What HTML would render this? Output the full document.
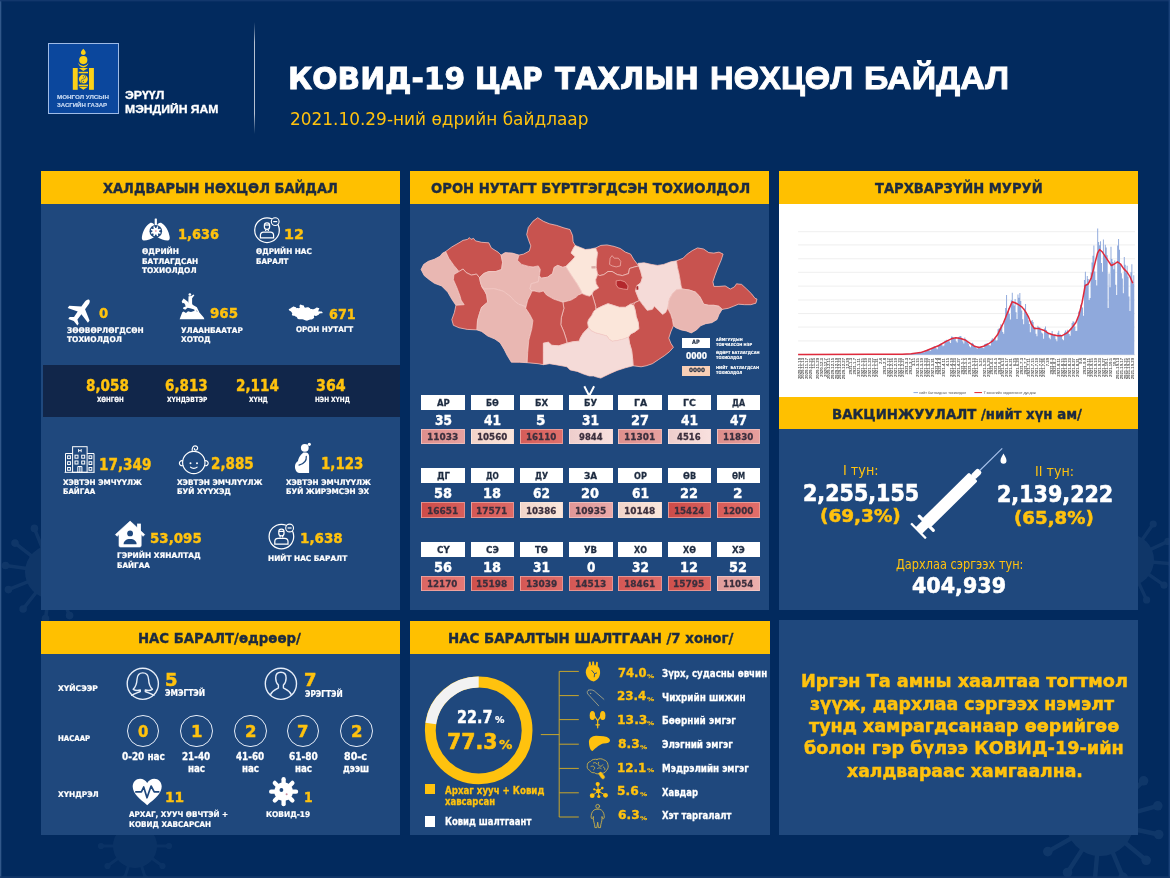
<!DOCTYPE html>
<html lang="mn">
<head>
<meta charset="utf-8">
<title>КОВИД-19 ЦАР ТАХЛЫН НӨХЦӨЛ БАЙДАЛ</title>
<style>
*{box-sizing:border-box;margin:0;padding:0}
html,body{width:1170px;height:878px;overflow:hidden}
body{background:#022a5e;position:relative;font-family:"DejaVu Sans","Liberation Sans",sans-serif;font-weight:bold;color:#fff}
.b{position:absolute}
.t{position:absolute;white-space:pre;line-height:1;transform-origin:0 0;-webkit-text-stroke:.028em currentColor}
.n{-webkit-text-stroke:0}
.f1{font-family:"DejaVu Sans","Liberation Sans",sans-serif}
.f2{font-family:"Liberation Sans","DejaVu Sans",sans-serif}
svg{position:absolute;overflow:visible}
#L{position:absolute;left:0;top:0;width:1170px;height:878px;will-change:transform}
</style>
</head>
<body>
<div id="L">
<svg width="1170" height="878" viewBox="0 0 1170 878" style="left:0;top:0"><g opacity="0.085" fill="#9fb8dc" stroke="#9fb8dc"><line x1="52.0" y1="572.0" x2="98.5" y2="578.5" stroke-width="3.5"/><circle cx="98.5" cy="578.5" r="3.8" stroke="none"/><line x1="52.0" y1="572.0" x2="89.0" y2="600.9" stroke-width="3.5"/><circle cx="89.0" cy="600.9" r="3.8" stroke="none"/><line x1="52.0" y1="572.0" x2="69.6" y2="615.6" stroke-width="3.5"/><circle cx="69.6" cy="615.6" r="3.8" stroke="none"/><line x1="52.0" y1="572.0" x2="45.5" y2="618.5" stroke-width="3.5"/><circle cx="45.5" cy="618.5" r="3.8" stroke="none"/><line x1="52.0" y1="572.0" x2="23.1" y2="609.0" stroke-width="3.5"/><circle cx="23.1" cy="609.0" r="3.8" stroke="none"/><line x1="52.0" y1="572.0" x2="8.4" y2="589.6" stroke-width="3.5"/><circle cx="8.4" cy="589.6" r="3.8" stroke="none"/><line x1="52.0" y1="572.0" x2="5.5" y2="565.5" stroke-width="3.5"/><circle cx="5.5" cy="565.5" r="3.8" stroke="none"/><line x1="52.0" y1="572.0" x2="15.0" y2="543.1" stroke-width="3.5"/><circle cx="15.0" cy="543.1" r="3.8" stroke="none"/><line x1="52.0" y1="572.0" x2="34.4" y2="528.4" stroke-width="3.5"/><circle cx="34.4" cy="528.4" r="3.8" stroke="none"/><line x1="52.0" y1="572.0" x2="58.5" y2="525.5" stroke-width="3.5"/><circle cx="58.5" cy="525.5" r="3.8" stroke="none"/><line x1="52.0" y1="572.0" x2="80.9" y2="535.0" stroke-width="3.5"/><circle cx="80.9" cy="535.0" r="3.8" stroke="none"/><line x1="52.0" y1="572.0" x2="95.6" y2="554.4" stroke-width="3.5"/><circle cx="95.6" cy="554.4" r="3.8" stroke="none"/><circle cx="52" cy="572" r="27" stroke="none"/></g><g opacity="0.06" fill="#9fb8dc" stroke="#9fb8dc"><line x1="135.0" y1="846.0" x2="169.0" y2="846.0" stroke-width="2.9"/><circle cx="169.0" cy="846.0" r="3.1" stroke="none"/><line x1="135.0" y1="846.0" x2="162.5" y2="866.0" stroke-width="2.9"/><circle cx="162.5" cy="866.0" r="3.1" stroke="none"/><line x1="135.0" y1="846.0" x2="145.5" y2="878.3" stroke-width="2.9"/><circle cx="145.5" cy="878.3" r="3.1" stroke="none"/><line x1="135.0" y1="846.0" x2="124.5" y2="878.3" stroke-width="2.9"/><circle cx="124.5" cy="878.3" r="3.1" stroke="none"/><line x1="135.0" y1="846.0" x2="107.5" y2="866.0" stroke-width="2.9"/><circle cx="107.5" cy="866.0" r="3.1" stroke="none"/><line x1="135.0" y1="846.0" x2="101.0" y2="846.0" stroke-width="2.9"/><circle cx="101.0" cy="846.0" r="3.1" stroke="none"/><line x1="135.0" y1="846.0" x2="107.5" y2="826.0" stroke-width="2.9"/><circle cx="107.5" cy="826.0" r="3.1" stroke="none"/><line x1="135.0" y1="846.0" x2="124.5" y2="813.7" stroke-width="2.9"/><circle cx="124.5" cy="813.7" r="3.1" stroke="none"/><line x1="135.0" y1="846.0" x2="145.5" y2="813.7" stroke-width="2.9"/><circle cx="145.5" cy="813.7" r="3.1" stroke="none"/><line x1="135.0" y1="846.0" x2="162.5" y2="826.0" stroke-width="2.9"/><circle cx="162.5" cy="826.0" r="3.1" stroke="none"/><circle cx="135" cy="846" r="22" stroke="none"/></g><g opacity="0.085" fill="#9fb8dc" stroke="#9fb8dc"><line x1="1128.0" y1="560.0" x2="1171.8" y2="563.8" stroke-width="3.4"/><circle cx="1171.8" cy="563.8" r="3.6" stroke="none"/><line x1="1128.0" y1="560.0" x2="1164.0" y2="585.2" stroke-width="3.4"/><circle cx="1164.0" cy="585.2" r="3.6" stroke="none"/><line x1="1128.0" y1="560.0" x2="1146.6" y2="599.9" stroke-width="3.4"/><circle cx="1146.6" cy="599.9" r="3.6" stroke="none"/><line x1="1128.0" y1="560.0" x2="1124.2" y2="603.8" stroke-width="3.4"/><circle cx="1124.2" cy="603.8" r="3.6" stroke="none"/><line x1="1128.0" y1="560.0" x2="1102.8" y2="596.0" stroke-width="3.4"/><circle cx="1102.8" cy="596.0" r="3.6" stroke="none"/><line x1="1128.0" y1="560.0" x2="1088.1" y2="578.6" stroke-width="3.4"/><circle cx="1088.1" cy="578.6" r="3.6" stroke="none"/><line x1="1128.0" y1="560.0" x2="1084.2" y2="556.2" stroke-width="3.4"/><circle cx="1084.2" cy="556.2" r="3.6" stroke="none"/><line x1="1128.0" y1="560.0" x2="1092.0" y2="534.8" stroke-width="3.4"/><circle cx="1092.0" cy="534.8" r="3.6" stroke="none"/><line x1="1128.0" y1="560.0" x2="1109.4" y2="520.1" stroke-width="3.4"/><circle cx="1109.4" cy="520.1" r="3.6" stroke="none"/><line x1="1128.0" y1="560.0" x2="1131.8" y2="516.2" stroke-width="3.4"/><circle cx="1131.8" cy="516.2" r="3.6" stroke="none"/><line x1="1128.0" y1="560.0" x2="1153.2" y2="524.0" stroke-width="3.4"/><circle cx="1153.2" cy="524.0" r="3.6" stroke="none"/><line x1="1128.0" y1="560.0" x2="1167.9" y2="541.4" stroke-width="3.4"/><circle cx="1167.9" cy="541.4" r="3.6" stroke="none"/><circle cx="1128" cy="560" r="26" stroke="none"/></g><g opacity="0.09" fill="#9fb8dc" stroke="#9fb8dc"><line x1="1100.0" y1="822.0" x2="1158.7" y2="834.5" stroke-width="4.4"/><circle cx="1158.7" cy="834.5" r="4.8" stroke="none"/><line x1="1100.0" y1="822.0" x2="1146.2" y2="860.3" stroke-width="4.4"/><circle cx="1146.2" cy="860.3" r="4.8" stroke="none"/><line x1="1100.0" y1="822.0" x2="1123.1" y2="877.4" stroke-width="4.4"/><circle cx="1123.1" cy="877.4" r="4.8" stroke="none"/><line x1="1100.0" y1="822.0" x2="1094.7" y2="881.8" stroke-width="4.4"/><circle cx="1094.7" cy="881.8" r="4.8" stroke="none"/><line x1="1100.0" y1="822.0" x2="1067.5" y2="872.5" stroke-width="4.4"/><circle cx="1067.5" cy="872.5" r="4.8" stroke="none"/><line x1="1100.0" y1="822.0" x2="1047.8" y2="851.6" stroke-width="4.4"/><circle cx="1047.8" cy="851.6" r="4.8" stroke="none"/><line x1="1100.0" y1="822.0" x2="1040.0" y2="823.9" stroke-width="4.4"/><circle cx="1040.0" cy="823.9" r="4.8" stroke="none"/><line x1="1100.0" y1="822.0" x2="1046.0" y2="795.8" stroke-width="4.4"/><circle cx="1046.0" cy="795.8" r="4.8" stroke="none"/><line x1="1100.0" y1="822.0" x2="1064.3" y2="773.7" stroke-width="4.4"/><circle cx="1064.3" cy="773.7" r="4.8" stroke="none"/><line x1="1100.0" y1="822.0" x2="1090.9" y2="762.7" stroke-width="4.4"/><circle cx="1090.9" cy="762.7" r="4.8" stroke="none"/><line x1="1100.0" y1="822.0" x2="1119.5" y2="765.2" stroke-width="4.4"/><circle cx="1119.5" cy="765.2" r="4.8" stroke="none"/><line x1="1100.0" y1="822.0" x2="1143.6" y2="780.8" stroke-width="4.4"/><circle cx="1143.6" cy="780.8" r="4.8" stroke="none"/><line x1="1100.0" y1="822.0" x2="1157.8" y2="805.8" stroke-width="4.4"/><circle cx="1157.8" cy="805.8" r="4.8" stroke="none"/><circle cx="1100" cy="822" r="34" stroke="none"/></g><rect x="0" y="0" width="1.300" height="878" fill="#3a5f90" opacity=".85"/><rect x="0" y="0" width="1170" height="1.400" fill="#14396e" opacity=".9"/><rect x="1168.600" y="0" width="1.400" height="878" fill="#1d457c" opacity=".85"/><rect x="0" y="876.200" width="1170" height="1.800" fill="#17396c" opacity=".8"/></svg>
<div class="b" style="left:41px;top:171px;width:359px;height:439px;background:#1f487d;"></div>
<div class="b" style="left:41px;top:171px;width:359px;height:33px;background:#ffc000;"></div>
<div class="b" style="left:410px;top:171px;width:359px;height:439px;background:#1f487d;"></div>
<div class="b" style="left:410px;top:171px;width:359px;height:33px;background:#ffc000;"></div>
<div class="b" style="left:779px;top:171px;width:359px;height:439px;background:#1f487d;"></div>
<div class="b" style="left:779px;top:171px;width:359px;height:33px;background:#ffc000;"></div>
<div class="b" style="left:779px;top:204px;width:359px;height:193px;background:#ffffff;"></div>
<div class="b" style="left:779px;top:397px;width:359px;height:32px;background:#ffc000;"></div>
<div class="b" style="left:41px;top:621px;width:359px;height:214px;background:#1f487d;"></div>
<div class="b" style="left:41px;top:621px;width:359px;height:33px;background:#ffc000;"></div>
<div class="b" style="left:410px;top:621px;width:360px;height:214px;background:#1f487d;"></div>
<div class="b" style="left:410px;top:621px;width:360px;height:33px;background:#ffc000;"></div>
<div class="b" style="left:779px;top:620px;width:359px;height:215px;background:#1f487d;"></div>
<div class="b" style="left:42.5px;top:365.2px;width:357.5px;height:51.6px;background:#11264a;"></div>
<div class="b" style="left:47.7px;top:43.1px;width:71.2px;height:71.1px;background:#0b479d;border:1.1px solid #9fbbe6"></div>
<svg width="30" height="50" viewBox="68 46 30 50" style="left:68px;top:46px"><g fill="#fcd116">
<path d="M83.3 48.7c1.1 1.5 2.5 2.6 2.4 4.3-.1 1.3-1.1 2-2.4 2s-2.3-.7-2.4-2c-.1-1.7 1.3-2.8 2.4-4.300z"/>
<circle cx="83.3" cy="60.1" r="4.1"/>
<path d="M78.2 62.6c.9 2.1 2.8 3.3 5.100 3.300s4.200-1.200 5.100-3.300c-.3 3-2.300 4.900-5.100 4.900s-4.800-1.900-5.100-4.900z"/>
<rect x="72.8" y="68" width="4.9" height="21.8"/>
<rect x="89" y="68" width="4.9" height="21.800"/>
<path d="M78.700 68.100h9.300l-4.650 3z"/>
<rect x="78.700" y="71.800" width="9.300" height="1.500"/>
<circle cx="83.350" cy="79.100" r="4.500"/>
<rect x="78.700" y="84.600" width="9.300" height="1.500"/>
<path d="M78.700 86.800h9.300l-4.650 3z"/>
</g>
<path d="M83.350 74.600a2.250 2.250 0 0 1 0 4.500a2.250 2.250 0 0 0 0 4.500" fill="none" stroke="#0b479d" stroke-width=".6"/>
<circle cx="83.350" cy="76.850" r=".6" fill="#0b479d"/><circle cx="83.350" cy="81.350" r=".6" fill="#0b479d"/>
</svg>
<div class="t f2" style="left:57.10px;top:95.22px;font-size:5.3px;color:#c8daf3;transform:scaleX(1.1787);">МОНГОЛ УЛСЫН</div>
<div class="t f2" style="left:57.10px;top:102.62px;font-size:5.3px;color:#c8daf3;transform:scaleX(1.1399);">ЗАСГИЙН ГАЗАР</div>
<div class="t f2" style="left:125.40px;top:89.59px;font-size:11px;transform:scaleX(1.1193);">ЭРҮҮЛ</div>
<div class="t f2" style="left:125.40px;top:103.59px;font-size:11px;transform:scaleX(1.1050);">МЭНДИЙН ЯАМ</div>
<div class="b" style="left:253.7px;top:22px;width:1.2px;height:112px;background:linear-gradient(to bottom,rgba(190,200,215,0),rgba(190,200,215,.95) 18%,rgba(190,200,215,.95) 82%,rgba(190,200,215,0))"></div>
<div class="t f1" style="left:288.47px;top:63.14px;font-size:30.8px;transform:scaleX(0.9643);">КОВИД-19</div>
<div class="t f1" style="left:475.30px;top:63.14px;font-size:30.8px;transform:scaleX(0.9019);">ЦАР</div>
<div class="t f1" style="left:555.40px;top:63.14px;font-size:30.8px;transform:scaleX(0.9485);">ТАХЛЫН</div>
<div class="t f2" style="left:710.02px;top:62.64px;font-size:31.4px;transform:scaleX(1.0422);">НӨХЦӨЛ</div>
<div class="t f2" style="left:863.54px;top:62.64px;font-size:31.4px;transform:scaleX(1.0822);">БАЙДАЛ</div>
<div class="t f1" style="left:290.07px;top:110.00px;font-size:18.2px;color:#ffc20e;font-weight:normal;-webkit-text-stroke:0;transform:scaleX(0.9303);">2021.10.29-ний өдрийн байдлаар</div>
<div class="t f1" style="left:103.30px;top:180.96px;font-size:14.7px;color:#1d2b40;transform:scaleX(0.8864);">ХАЛДВАРЫН НӨХЦӨЛ БАЙДАЛ</div>
<div class="t f1" style="left:430.90px;top:180.86px;font-size:14.7px;color:#1d2b40;transform:scaleX(0.8985);">ОРОН НУТАГТ БҮРТГЭГДСЭН ТОХИОЛДОЛ</div>
<div class="t f1" style="left:875.30px;top:180.76px;font-size:14.7px;color:#1d2b40;transform:scaleX(0.8923);">ТАРХВАРЗҮЙН МУРУЙ</div>
<div class="t f1" style="left:832.29px;top:406.76px;font-size:14.7px;color:#1d2b40;transform:scaleX(0.9068);">ВАКЦИНЖУУЛАЛТ /нийт хүн ам/</div>
<div class="t f1" style="left:138.20px;top:631.26px;font-size:14.7px;color:#1d2b40;transform:scaleX(0.9028);">НАС БАРАЛТ/өдрөөр/</div>
<div class="t f1" style="left:448.49px;top:631.06px;font-size:14.7px;color:#1d2b40;transform:scaleX(0.9091);">НАС БАРАЛТЫН ШАЛТГААН /7 хоног/</div>
<div class="t f1" style="left:178.42px;top:227.26px;font-size:14.7px;color:#ffc20e;transform:scaleX(0.8842);">1,636</div>
<div class="t f1" style="left:142.20px;top:248.32px;font-size:7.9px;transform:scaleX(0.9425);">ӨДРИЙН</div>
<div class="t f1" style="left:142.20px;top:257.92px;font-size:7.9px;transform:scaleX(0.9249);">БАТЛАГДСАН</div>
<div class="t f1" style="left:142.20px;top:267.32px;font-size:7.9px;transform:scaleX(0.9347);">ТОХИОЛДОЛ</div>
<div class="t f1" style="left:284.12px;top:227.26px;font-size:14.7px;color:#ffc20e;transform:scaleX(0.9770);">12</div>
<div class="t f1" style="left:256.20px;top:248.32px;font-size:7.9px;transform:scaleX(0.9212);">ӨДРИЙН НАС</div>
<div class="t f1" style="left:256.20px;top:257.92px;font-size:7.9px;transform:scaleX(0.9025);">БАРАЛТ</div>
<div class="t f1" style="left:99.40px;top:306.36px;font-size:14.7px;color:#ffc20e;transform:scaleX(0.9000);">0</div>
<div class="t f1" style="left:67.30px;top:326.82px;font-size:7.9px;transform:scaleX(0.9343);">ЗӨӨВӨРЛӨГДСӨН</div>
<div class="t f1" style="left:67.30px;top:336.12px;font-size:7.9px;transform:scaleX(0.9416);">ТОХИОЛДОЛ</div>
<div class="t f1" style="left:210.00px;top:306.36px;font-size:14.7px;color:#ffc20e;transform:scaleX(0.9166);">965</div>
<div class="t f1" style="left:181.00px;top:326.82px;font-size:7.9px;transform:scaleX(0.9230);">УЛААНБААТАР</div>
<div class="t f1" style="left:181.00px;top:336.12px;font-size:7.9px;transform:scaleX(0.9284);">ХОТОД</div>
<div class="t f1" style="left:328.80px;top:307.16px;font-size:14.7px;color:#ffc20e;transform:scaleX(0.8706);">671</div>
<div class="t f1" style="left:295.90px;top:326.32px;font-size:7.9px;transform:scaleX(0.9050);">ОРОН НУТАГТ</div>
<div class="t f1" style="left:86.15px;top:378.51px;font-size:15.0px;color:#ffc20e;transform:scaleX(0.9041);">8,058</div>
<div class="t f1" style="left:165.45px;top:378.51px;font-size:15.0px;color:#ffc20e;transform:scaleX(0.8998);">6,813</div>
<div class="t f1" style="left:236.00px;top:378.51px;font-size:15.0px;color:#ffc20e;transform:scaleX(0.9042);">2,114</div>
<div class="t f1" style="left:315.90px;top:378.51px;font-size:15.0px;color:#ffc20e;transform:scaleX(0.9473);">364</div>
<div class="t f1" style="left:96.90px;top:395.81px;font-size:7.2px;transform:scaleX(0.7800);">ХӨНГӨН</div>
<div class="t f1" style="left:166.80px;top:395.81px;font-size:7.2px;transform:scaleX(0.8148);">ХҮНДЭВТЭР</div>
<div class="t f1" style="left:248.60px;top:395.81px;font-size:7.2px;transform:scaleX(0.8084);">ХҮНД</div>
<div class="t f1" style="left:314.75px;top:395.81px;font-size:7.2px;transform:scaleX(0.8104);">НЭН ХҮНД</div>
<div class="t f1" style="left:98.91px;top:457.66px;font-size:15.3px;color:#ffc20e;transform:scaleX(0.8887);">17,349</div>
<div class="t f1" style="left:62.60px;top:478.89px;font-size:7.7px;transform:scaleX(0.9391);">ХЭВТЭН ЭМЧҮҮЛЖ</div>
<div class="t f1" style="left:62.60px;top:488.49px;font-size:7.7px;transform:scaleX(0.9205);">БАЙГАА</div>
<div class="t f1" style="left:210.62px;top:457.46px;font-size:15.3px;color:#ffc20e;transform:scaleX(0.8836);">2,885</div>
<div class="t f1" style="left:177.10px;top:478.89px;font-size:7.7px;transform:scaleX(0.9457);">ХЭВТЭН ЭМЧЛҮҮЛЖ</div>
<div class="t f1" style="left:177.10px;top:488.49px;font-size:7.7px;transform:scaleX(0.9553);">БУЙ ХҮҮХЭД</div>
<div class="t f1" style="left:320.72px;top:457.46px;font-size:15.3px;color:#ffc20e;transform:scaleX(0.8772);">1,123</div>
<div class="t f1" style="left:286.30px;top:478.89px;font-size:7.7px;transform:scaleX(0.9391);">ХЭВТЭН ЭМЧЛҮҮЛЖ</div>
<div class="t f1" style="left:286.30px;top:488.49px;font-size:7.7px;transform:scaleX(0.9487);">БУЙ ЖИРЭМСЭН ЭХ</div>
<div class="t f1" style="left:150.29px;top:531.46px;font-size:14.7px;color:#ffc20e;transform:scaleX(0.9124);">53,095</div>
<div class="t f1" style="left:117.30px;top:552.49px;font-size:7.7px;transform:scaleX(0.9637);">ГЭРИЙН ХЯНАЛТАД</div>
<div class="t f1" style="left:117.30px;top:562.19px;font-size:7.7px;transform:scaleX(0.9376);">БАЙГАА</div>
<div class="t f1" style="left:300.28px;top:531.46px;font-size:14.7px;color:#ffc20e;transform:scaleX(0.9196);">1,638</div>
<div class="t f1" style="left:268.40px;top:554.99px;font-size:7.7px;transform:scaleX(0.9546);">НИЙТ НАС БАРАЛТ</div>
<svg width="1170" height="878" viewBox="0 0 1170 878" style="left:0;top:0"><polygon fill="#c8534f" points="421.1,269.5 424.2,275.6 434.4,283.3 441.6,285.9 447.7,292.1 455.8,305.2 454.4,312.4 451.8,319.6 453.4,325.3 459.0,327.8 467.2,329.4 477.0,329.9 481.5,331.4 487.7,336.0 494.9,339.1 500.1,342.7 511.3,362.2 527.2,362.7 538.0,363.7 543.4,364.7 549.5,363.7 555.7,364.7 566.9,366.8 570.1,369.9 577.2,371.4 589.5,376.0 593.6,376.0 600.8,378.1 617.2,370.4 625.4,367.8 633.1,365.8 641.1,366.8 646.2,365.8 652.4,363.7 664.7,355.5 669.8,351.4 673.4,347.3 670.8,343.2 668.8,338.1 670.8,331.9 673.4,326.1 675.9,327.8 681.1,329.9 686.2,330.9 691.3,332.9 696.5,329.9 700.6,325.8 705.7,323.7 711.8,322.7 717.0,319.6 719.0,314.5 722.2,309.4 728.3,308.3 738.5,304.2 750.8,304.7 755.9,303.2 757.0,299.1 754.9,298.2 751.8,294.1 741.6,284.4 736.5,283.8 734.4,286.9 730.3,288.9 725.2,285.9 713.9,286.3 712.9,281.7 723.1,254.1 719.0,252.1 713.9,253.1 708.9,252.6 703.6,249.0 697.5,247.9 692.4,250.5 687.2,254.1 683.1,258.2 676.5,260.8 670.8,261.8 663.6,264.4 657.5,265.4 644.2,262.8 638.0,263.3 638.3,264.3 637.9,264.6 633.6,259.2 630.6,254.1 625.4,252.1 620.3,248.5 614.2,246.4 607.0,244.9 600.8,245.4 595.7,247.9 590.6,249.0 585.5,249.5 575.3,245.4 573.1,241.8 572.6,235.6 570.0,229.5 556.7,225.4 549.5,223.8 543.4,221.3 537.7,217.7 532.9,221.3 528.3,227.4 526.7,234.6 530.8,246.0 529.3,251.0 523.6,254.1 519.0,255.1 512.4,253.1 505.2,252.6 501.1,255.0 498.0,252.1 491.3,247.9 488.8,242.8 481.6,242.3 475.5,240.8 473.6,238.4 471.0,239.2 469.3,237.6 467.5,239.4 463.1,240.3 451.8,246.9 445.7,251.5 442.6,253.1 439.9,256.2 434.4,259.2 428.3,261.3 423.6,264.4 421.1,269.5"/><g stroke="#f3cfca" stroke-width="0.7" stroke-linejoin="round"><polygon fill="#e9b7b2" points="445.7,251.5 442.6,253.1 440.0,256.2 434.4,259.2 428.3,261.3 423.6,264.4 421.1,269.5 424.2,275.6 429.3,279.7 434.4,283.3 441.6,285.9 447.7,292.1 451.8,299.2 455.9,305.3 464.2,304.7 461.1,300.1 460.1,296.2 457.0,287.9 453.4,279.7 453.9,274.6 459.0,271.5 453.9,265.4 448.8,258.2"/><polygon fill="#c8534f" points="445.7,251.5 451.8,246.9 459.0,242.8 463.1,240.3 467.5,239.4 469.3,237.6 471.0,239.3 473.6,238.4 475.4,240.8 481.6,242.3 488.8,242.8 491.3,247.9 498.0,252.1 501.1,255.1 502.6,262.3 501.6,269.5 495.9,271.5 488.8,271.5 483.6,273.6 479.5,277.7 476.5,274.1 471.3,275.1 466.2,272.6 463.1,269.0 459.0,271.5 453.9,265.4 448.8,258.2"/><polygon fill="#c8534f" points="459.0,271.5 463.1,269.0 466.2,272.6 471.3,275.1 476.5,274.1 479.5,277.7 480.6,283.0 482.0,287.0 484.7,291.0 486.7,295.0 487.7,302.2 481.6,307.3 479.5,313.5 477.5,320.6 477.0,329.9 467.2,329.4 459.0,327.8 453.4,325.3 451.8,319.6 454.4,312.4 455.9,305.3 464.2,304.7 461.1,300.1 460.1,296.2 457.0,287.9 453.4,279.7 453.9,274.6"/><polygon fill="#e9b7b2" points="501.1,255.1 505.2,252.6 512.4,253.1 519.0,255.1 517.5,260.3 521.6,264.4 528.8,266.4 533.1,266.9 538.3,265.9 540.3,269.5 539.3,276.0 538.3,281.8 531.1,283.8 530.0,289.0 532.0,291.0 530.3,295.0 527.7,300.1 525.7,308.3 524.7,306.3 518.5,304.2 513.4,300.1 511.3,297.2 503.1,291.1 493.9,288.6 484.7,289.0 482.0,287.0 480.6,283.0 479.5,277.7 483.6,273.6 488.8,271.5 495.9,271.5 501.6,269.5 502.6,262.3"/><polygon fill="#e9b7b2" points="482.0,287.0 484.7,289.0 493.9,288.6 503.1,291.1 511.3,297.2 513.4,300.1 518.5,304.2 524.7,306.3 525.7,308.3 529.8,314.5 532.9,320.6 531.8,328.8 528.8,340.1 527.7,352.4 527.2,362.7 519.5,362.2 511.3,362.2 507.2,355.5 504.2,349.4 500.1,342.7 494.9,339.1 487.7,336.0 481.6,331.4 477.0,329.9 477.5,320.6 479.5,313.5 481.6,307.3 487.7,302.2 486.7,295.0 484.7,291.0"/><polygon fill="#c8534f" points="537.7,217.7 543.4,221.3 549.5,223.8 556.7,225.4 563.9,227.9 570.0,229.5 572.6,235.6 573.1,241.8 575.2,245.4 573.1,249.0 571.1,253.1 575.2,256.7 572.1,260.3 569.0,263.3 565.9,266.4 562.9,267.4 557.7,265.4 554.2,267.4 552.6,273.6 547.5,277.2 541.3,278.2 539.3,276.0 540.3,269.5 538.3,265.9 533.1,266.9 528.8,266.4 521.6,264.4 517.5,260.3 519.0,255.1 523.6,254.1 529.3,251.0 530.8,245.9 528.8,240.8 526.7,234.6 528.3,227.4 532.9,221.3"/><polygon fill="#e9b7b2" points="539.3,276.0 541.3,278.2 547.5,277.2 552.6,273.6 554.2,267.4 557.7,265.4 562.9,267.4 565.9,266.4 569.0,271.5 573.1,277.7 577.2,283.8 581.3,291.0 582.0,293.5 578.3,295.0 576.2,297.1 571.1,300.1 562.9,302.2 553.6,299.1 546.5,295.0 543.4,291.0 539.3,292.1 534.2,291.0 532.0,291.0 530.0,289.0 531.1,283.8 538.3,281.8"/><polygon fill="#fbe6da" points="575.2,245.4 580.3,247.4 585.4,249.5 590.6,249.0 595.7,247.9 597.7,253.1 596.7,259.2 596.2,267.4 597.7,274.6 595.7,279.7 596.2,283.8 598.8,287.9 593.6,291.0 592.1,294.1 589.5,296.2 585.4,295.1 582.0,293.5 581.3,291.0 577.2,283.8 573.1,277.7 569.0,271.5 565.9,266.4 569.0,263.3 572.1,260.3 575.2,256.7 571.1,253.1 573.1,249.0"/><polygon fill="#c8534f" points="595.7,247.9 600.8,245.4 607.0,244.9 614.2,246.4 620.3,248.5 625.4,252.1 630.6,254.1 633.6,259.2 636.7,263.3 638.8,265.9 634.7,266.9 629.5,268.5 628.5,273.6 622.4,275.6 617.2,274.6 612.1,271.5 608.0,271.5 603.9,274.6 599.8,275.6 597.7,274.6 596.2,267.4 596.7,259.2 597.7,253.1"/><polygon fill="#c8534f" points="597.7,274.6 599.8,275.6 603.9,274.6 608.0,271.5 612.1,271.5 617.2,274.6 622.4,275.6 628.5,273.6 629.5,268.5 634.7,266.9 638.8,265.9 640.8,271.5 642.4,277.7 640.8,282.8 636.7,285.9 635.7,291.0 637.7,296.2 639.5,300.5 634.7,302.7 630.6,304.2 625.4,307.3 619.3,307.3 613.1,305.3 608.0,303.7 601.8,306.3 595.7,309.4 595.7,306.3 592.1,294.1 593.6,291.0 598.8,287.9 596.2,283.8 595.7,279.7"/><polygon fill="#f5dbd8" points="638.8,265.9 638.0,263.3 644.2,262.8 651.3,264.4 657.5,265.4 663.6,264.4 670.8,261.8 676.5,260.8 677.5,267.4 679.0,273.6 680.1,279.7 681.1,285.9 682.1,289.0 677.0,289.5 672.9,293.1 669.8,298.2 668.8,301.2 667.7,308.3 665.7,312.4 662.6,314.5 658.5,310.4 654.4,306.3 652.4,309.4 647.2,310.4 643.1,305.3 639.5,300.5 637.7,296.2 635.7,291.0 636.7,285.9 640.8,282.8 642.4,277.7 640.8,271.5"/><polygon fill="#c8534f" points="676.5,260.8 683.1,258.2 687.2,254.1 692.4,250.5 697.5,247.9 703.6,249.0 708.8,252.6 713.9,253.1 719.0,252.1 723.1,254.1 721.1,260.3 718.0,267.4 714.9,275.6 712.9,281.8 713.9,286.4 719.0,286.4 725.2,285.9 730.3,289.0 734.4,286.9 736.5,283.8 741.6,284.4 746.7,289.0 751.8,294.1 754.9,298.2 757.0,299.1 755.9,303.2 750.8,304.7 744.7,304.7 738.5,304.2 733.4,306.3 728.3,308.3 722.1,309.4 719.0,306.3 713.9,305.3 708.8,305.3 703.6,304.2 701.6,300.1 699.5,296.2 695.4,292.1 689.3,290.0 682.1,289.0 681.1,285.9 680.1,279.7 679.0,273.6 677.5,267.4"/><polygon fill="#e9b7b2" points="682.1,289.0 689.3,290.0 695.4,292.1 699.5,296.2 701.6,300.1 703.6,304.2 708.8,305.3 713.9,305.3 719.0,306.3 722.1,309.4 719.0,314.5 717.0,319.6 711.8,322.7 705.7,323.7 700.6,325.8 696.5,329.9 691.3,332.9 686.2,330.9 681.1,329.9 675.9,327.8 673.4,325.8 672.4,319.6 670.8,314.5 667.7,308.3 668.8,301.2 669.8,298.2 672.9,293.1 677.0,289.5"/><polygon fill="#c8534f" points="639.5,300.5 643.1,305.3 647.2,310.4 652.4,309.4 654.4,306.3 658.5,310.4 662.6,314.5 665.7,312.4 667.7,308.3 670.8,314.5 672.4,319.6 673.4,325.8 670.8,331.9 668.8,338.1 670.8,343.2 673.4,347.3 669.8,351.4 664.7,355.5 658.5,359.6 652.4,363.7 646.2,365.8 641.1,366.8 633.1,365.8 632.6,358.6 631.6,350.4 629.5,343.2 628.5,337.1 630.6,334.0 634.7,331.9 638.8,328.8 638.3,322.7 636.2,316.5 635.2,310.4 633.6,305.3 634.7,302.7"/><polygon fill="#fbe6da" points="595.7,309.4 601.8,306.3 608.0,303.7 613.1,305.3 619.3,307.3 625.4,307.3 630.6,304.2 633.6,305.3 635.2,310.4 636.2,316.5 638.3,322.7 638.8,328.8 634.7,331.9 630.6,334.0 628.5,337.1 623.4,339.1 617.2,340.6 612.1,341.2 609.0,339.1 607.0,336.0 601.8,334.5 595.7,332.9 591.6,330.9 588.5,327.8 587.5,322.7 588.5,319.6 591.6,315.5 593.6,311.4"/><polygon fill="#c8534f" points="562.9,302.2 571.1,300.1 576.2,297.1 578.3,295.0 582.0,293.5 585.4,295.1 589.5,296.2 592.1,294.1 595.7,306.3 595.7,309.4 593.6,311.4 591.6,315.5 588.5,319.6 587.5,322.7 588.5,327.8 583.4,332.9 580.3,338.1 579.3,341.2 573.1,341.7 567.0,343.2 566.5,340.1 563.9,331.9 560.8,324.7 561.3,317.6 563.9,308.3"/><polygon fill="#c8534f" points="532.0,291.0 534.2,291.0 539.3,292.1 543.4,291.0 546.5,295.0 553.6,299.1 562.9,302.2 563.9,308.3 561.3,317.6 560.8,324.7 563.9,331.9 566.5,340.1 567.0,343.2 558.8,345.8 551.6,345.3 548.5,342.2 543.4,343.2 543.4,352.4 543.4,364.7 538.0,363.7 527.2,362.7 527.7,352.4 528.8,340.1 531.8,328.8 532.9,320.6 529.8,314.5 525.7,308.3 527.7,300.1 530.3,295.0"/><polygon fill="#f5dbd8" points="543.4,364.7 543.4,352.4 543.4,343.2 548.5,342.2 551.6,345.3 558.8,345.8 567.0,343.2 573.1,341.7 579.3,341.2 580.3,338.1 583.4,332.9 588.5,327.8 591.6,330.9 595.7,332.9 601.8,334.5 607.0,336.0 609.0,339.1 612.1,341.2 617.2,340.6 623.4,339.1 628.5,337.1 629.5,343.2 631.6,350.4 632.6,358.6 633.1,365.8 625.4,367.8 617.2,370.4 610.1,373.5 604.9,376.0 600.8,378.1 596.7,377.1 593.6,376.0 589.5,376.0 583.4,374.0 577.2,371.4 570.1,369.9 567.0,366.8 561.8,365.8 555.7,364.7 549.5,363.7"/><polygon fill="#c8534f" stroke="#f0b9b4" points="610.1,258.2 612.1,255.6 614.2,258.2 618.3,258.2 620.8,261.3 620.3,265.9 616.2,266.9 612.1,265.9 609.5,264.4"/><polygon fill="#b3282d" stroke="#f0a9a4" points="616.2,280.8 620.3,280.3 624.9,281.8 628,285.9 627.5,289.5 623.4,289 618.3,287.9 616.2,284.9"/><polygon fill="#a82428" stroke="none" points="636.3,286.5 638.2,286 638.4,289.6 636.6,290"/><polygon fill="#d9aaa4" stroke="none" points="591.3,266.3 595.6,266 595.6,268.4 591.6,268.6"/></g><polyline points="584.3,386.2 588.4,394.2 590.0,394.2 594.1,386.2" fill="none" stroke="#fff" stroke-width="2"/></svg>
<div class="b" style="left:682px;top:337.5px;width:28px;height:10px;background:#ffffff;"></div>
<div class="t f1" style="left:692.10px;top:340.01px;font-size:5.9px;color:#1d2b40;transform:scaleX(0.8578);">АР</div>
<div class="t f1" style="left:685.90px;top:352.41px;font-size:8.5px;transform:scaleX(0.8845);">0000</div>
<div class="b" style="left:682px;top:365.8px;width:28px;height:10.2px;background:#f8cfb6;"></div>
<div class="t f1" style="left:688.60px;top:368.11px;font-size:5.9px;color:#1d2b40;transform:scaleX(0.9818);">0000</div>
<div class="t f1" style="left:716.00px;top:338.05px;font-size:4.2px;transform:scaleX(0.8410);">АЙМГУУДЫН</div>
<div class="t f1" style="left:716.00px;top:343.25px;font-size:4.2px;transform:scaleX(0.8749);">ТОВЧИЛСОН НЭР</div>
<div class="t f1" style="left:716.00px;top:351.45px;font-size:4.2px;transform:scaleX(0.8636);">ӨДӨРТ БАТЛАГДСАН</div>
<div class="t f1" style="left:716.00px;top:355.65px;font-size:4.2px;transform:scaleX(0.8451);">ТОХИОЛДОЛ</div>
<div class="t f1" style="left:716.00px;top:366.25px;font-size:4.2px;transform:scaleX(0.8877);">НИЙТ  БАТЛАГДСАН</div>
<div class="t f1" style="left:716.00px;top:371.15px;font-size:4.2px;transform:scaleX(0.8451);">ТОХИОЛДОЛ</div>
<div class="b" style="left:421.3px;top:394.6px;width:43.6px;height:15.3px;background:#ffffff;"></div>
<div class="t f1" style="left:436.50px;top:398.59px;font-size:9.0px;color:#1d2b40;transform:scaleX(0.9452);">АР</div>
<div class="t f1" style="left:434.70px;top:413.75px;font-size:13.3px;transform:scaleX(0.9204);">35</div>
<div class="b" style="left:421.30px;top:428.6px;width:43.6px;height:15.8px;background:#e59a98;border:1px solid rgba(255,235,230,.4);background-image:linear-gradient(to right,rgba(120,0,0,.07),rgba(255,255,255,.07))"></div>
<div class="t f1" style="left:427.24px;top:432.05px;font-size:9.4px;color:#3b2f3d;transform:scaleX(0.9584);">11033</div>
<div class="b" style="left:470.55px;top:394.6px;width:43.6px;height:15.3px;background:#ffffff;"></div>
<div class="t f1" style="left:485.75px;top:398.59px;font-size:9.0px;color:#1d2b40;transform:scaleX(0.8883);">БӨ</div>
<div class="t f1" style="left:483.95px;top:413.75px;font-size:13.3px;transform:scaleX(0.9204);">41</div>
<div class="b" style="left:470.55px;top:428.6px;width:43.6px;height:15.8px;background:#fbe3d8;border:1px solid rgba(255,235,230,.4);background-image:linear-gradient(to right,rgba(120,0,0,.07),rgba(255,255,255,.07))"></div>
<div class="t f1" style="left:476.52px;top:432.05px;font-size:9.4px;color:#3b2f3d;transform:scaleX(0.9286);">10560</div>
<div class="b" style="left:519.8px;top:394.6px;width:43.6px;height:15.3px;background:#ffffff;"></div>
<div class="t f1" style="left:535.00px;top:398.59px;font-size:9.0px;color:#1d2b40;transform:scaleX(0.9524);">БХ</div>
<div class="t f1" style="left:536.47px;top:413.75px;font-size:13.3px;transform:scaleX(1.0250);">5</div>
<div class="b" style="left:519.80px;top:428.6px;width:43.6px;height:15.8px;background:#dd6460;border:1px solid rgba(255,235,230,.4);background-image:linear-gradient(to right,rgba(120,0,0,.07),rgba(255,255,255,.07))"></div>
<div class="t f1" style="left:525.77px;top:432.05px;font-size:9.4px;color:#3b2f3d;transform:scaleX(0.9286);">16110</div>
<div class="b" style="left:569.05px;top:394.6px;width:43.6px;height:15.3px;background:#ffffff;"></div>
<div class="t f1" style="left:584.25px;top:398.59px;font-size:9.0px;color:#1d2b40;transform:scaleX(0.9524);">БУ</div>
<div class="t f1" style="left:582.45px;top:413.75px;font-size:13.3px;transform:scaleX(0.9204);">31</div>
<div class="b" style="left:569.05px;top:428.6px;width:43.6px;height:15.8px;background:#f8dedc;border:1px solid rgba(255,235,230,.4);background-image:linear-gradient(to right,rgba(120,0,0,.07),rgba(255,255,255,.07))"></div>
<div class="t f1" style="left:578.85px;top:432.05px;font-size:9.4px;color:#3b2f3d;transform:scaleX(0.9033);">9844</div>
<div class="b" style="left:618.3px;top:394.6px;width:43.6px;height:15.3px;background:#ffffff;"></div>
<div class="t f1" style="left:633.50px;top:398.59px;font-size:9.0px;color:#1d2b40;transform:scaleX(1.0365);">ГА</div>
<div class="t f1" style="left:630.73px;top:413.75px;font-size:13.3px;transform:scaleX(0.9738);">27</div>
<div class="b" style="left:618.30px;top:428.6px;width:43.6px;height:15.8px;background:#e59a98;border:1px solid rgba(255,235,230,.4);background-image:linear-gradient(to right,rgba(120,0,0,.07),rgba(255,255,255,.07))"></div>
<div class="t f1" style="left:624.24px;top:432.05px;font-size:9.4px;color:#3b2f3d;transform:scaleX(0.9584);">11301</div>
<div class="b" style="left:667.55px;top:394.6px;width:43.6px;height:15.3px;background:#ffffff;"></div>
<div class="t f1" style="left:682.75px;top:398.59px;font-size:9.0px;color:#1d2b40;transform:scaleX(1.0365);">ГС</div>
<div class="t f1" style="left:680.95px;top:413.75px;font-size:13.3px;transform:scaleX(0.9204);">41</div>
<div class="b" style="left:667.55px;top:428.6px;width:43.6px;height:15.8px;background:#f8dedc;border:1px solid rgba(255,235,230,.4);background-image:linear-gradient(to right,rgba(120,0,0,.07),rgba(255,255,255,.07))"></div>
<div class="t f1" style="left:677.35px;top:432.05px;font-size:9.4px;color:#3b2f3d;transform:scaleX(0.9033);">4516</div>
<div class="b" style="left:716.8px;top:394.6px;width:43.6px;height:15.3px;background:#ffffff;"></div>
<div class="t f1" style="left:732.00px;top:398.59px;font-size:9.0px;color:#1d2b40;transform:scaleX(0.8791);">ДА</div>
<div class="t f1" style="left:730.20px;top:413.75px;font-size:13.3px;transform:scaleX(0.9204);">47</div>
<div class="b" style="left:716.80px;top:428.6px;width:43.6px;height:15.8px;background:#e49896;border:1px solid rgba(255,235,230,.4);background-image:linear-gradient(to right,rgba(120,0,0,.07),rgba(255,255,255,.07))"></div>
<div class="t f1" style="left:722.77px;top:432.05px;font-size:9.4px;color:#3b2f3d;transform:scaleX(0.9286);">11830</div>
<div class="b" style="left:421.3px;top:468.2px;width:43.6px;height:15.3px;background:#ffffff;"></div>
<div class="t f1" style="left:436.50px;top:472.19px;font-size:9.0px;color:#1d2b40;transform:scaleX(0.9418);">ДГ</div>
<div class="t f1" style="left:433.73px;top:487.35px;font-size:13.3px;transform:scaleX(0.9738);">58</div>
<div class="b" style="left:421.30px;top:502.2px;width:43.6px;height:15.8px;background:#d4524f;border:1px solid rgba(255,235,230,.4);background-image:linear-gradient(to right,rgba(120,0,0,.07),rgba(255,255,255,.07))"></div>
<div class="t f1" style="left:427.24px;top:505.65px;font-size:9.4px;color:#3b2f3d;transform:scaleX(0.9584);">16651</div>
<div class="b" style="left:470.55px;top:468.2px;width:43.6px;height:15.3px;background:#ffffff;"></div>
<div class="t f1" style="left:485.75px;top:472.19px;font-size:9.0px;color:#1d2b40;transform:scaleX(0.8242);">ДО</div>
<div class="t f1" style="left:482.98px;top:487.35px;font-size:13.3px;transform:scaleX(0.9738);">18</div>
<div class="b" style="left:470.55px;top:502.2px;width:43.6px;height:15.8px;background:#dc5f5b;border:1px solid rgba(255,235,230,.4);background-image:linear-gradient(to right,rgba(120,0,0,.07),rgba(255,255,255,.07))"></div>
<div class="t f1" style="left:476.49px;top:505.65px;font-size:9.4px;color:#3b2f3d;transform:scaleX(0.9584);">17571</div>
<div class="b" style="left:519.8px;top:468.2px;width:43.6px;height:15.3px;background:#ffffff;"></div>
<div class="t f1" style="left:535.00px;top:472.19px;font-size:9.0px;color:#1d2b40;transform:scaleX(0.8791);">ДУ</div>
<div class="t f1" style="left:533.20px;top:487.35px;font-size:13.3px;transform:scaleX(0.9204);">62</div>
<div class="b" style="left:519.80px;top:502.2px;width:43.6px;height:15.8px;background:#fbe5d9;border:1px solid rgba(255,235,230,.4);background-image:linear-gradient(to right,rgba(120,0,0,.07),rgba(255,255,255,.07))"></div>
<div class="t f1" style="left:525.77px;top:505.65px;font-size:9.4px;color:#3b2f3d;transform:scaleX(0.9286);">10386</div>
<div class="b" style="left:569.05px;top:468.2px;width:43.6px;height:15.3px;background:#ffffff;"></div>
<div class="t f1" style="left:584.25px;top:472.19px;font-size:9.0px;color:#1d2b40;transform:scaleX(0.9855);">ЗА</div>
<div class="t f1" style="left:581.48px;top:487.35px;font-size:13.3px;transform:scaleX(0.9738);">20</div>
<div class="b" style="left:569.05px;top:502.2px;width:43.6px;height:15.8px;background:#e8a3a3;border:1px solid rgba(255,235,230,.4);background-image:linear-gradient(to right,rgba(120,0,0,.07),rgba(255,255,255,.07))"></div>
<div class="t f1" style="left:574.99px;top:505.65px;font-size:9.4px;color:#3b2f3d;transform:scaleX(0.9584);">10935</div>
<div class="b" style="left:618.3px;top:468.2px;width:43.6px;height:15.3px;background:#ffffff;"></div>
<div class="t f1" style="left:633.50px;top:472.19px;font-size:9.0px;color:#1d2b40;transform:scaleX(0.9010);">ОР</div>
<div class="t f1" style="left:631.70px;top:487.35px;font-size:13.3px;transform:scaleX(0.9204);">61</div>
<div class="b" style="left:618.30px;top:502.2px;width:43.6px;height:15.8px;background:#fbe5d9;border:1px solid rgba(255,235,230,.4);background-image:linear-gradient(to right,rgba(120,0,0,.07),rgba(255,255,255,.07))"></div>
<div class="t f1" style="left:624.24px;top:505.65px;font-size:9.4px;color:#3b2f3d;transform:scaleX(0.9584);">10148</div>
<div class="b" style="left:667.55px;top:468.2px;width:43.6px;height:15.3px;background:#ffffff;"></div>
<div class="t f1" style="left:682.75px;top:472.19px;font-size:9.0px;color:#1d2b40;transform:scaleX(0.9010);">ӨВ</div>
<div class="t f1" style="left:679.98px;top:487.35px;font-size:13.3px;transform:scaleX(0.9738);">22</div>
<div class="b" style="left:667.55px;top:502.2px;width:43.6px;height:15.8px;background:#d4524f;border:1px solid rgba(255,235,230,.4);background-image:linear-gradient(to right,rgba(120,0,0,.07),rgba(255,255,255,.07))"></div>
<div class="t f1" style="left:673.52px;top:505.65px;font-size:9.4px;color:#3b2f3d;transform:scaleX(0.9286);">15424</div>
<div class="b" style="left:716.8px;top:468.2px;width:43.6px;height:15.3px;background:#ffffff;"></div>
<div class="t f1" style="left:732.00px;top:472.19px;font-size:9.0px;color:#1d2b40;transform:scaleX(0.7928);">ӨМ</div>
<div class="t f1" style="left:733.47px;top:487.35px;font-size:13.3px;transform:scaleX(1.0250);">2</div>
<div class="b" style="left:716.80px;top:502.2px;width:43.6px;height:15.8px;background:#e0635f;border:1px solid rgba(255,235,230,.4);background-image:linear-gradient(to right,rgba(120,0,0,.07),rgba(255,255,255,.07))"></div>
<div class="t f1" style="left:722.77px;top:505.65px;font-size:9.4px;color:#3b2f3d;transform:scaleX(0.9286);">12000</div>
<div class="b" style="left:421.3px;top:541.7px;width:43.6px;height:15.3px;background:#ffffff;"></div>
<div class="t f1" style="left:436.50px;top:545.69px;font-size:9.0px;color:#1d2b40;transform:scaleX(0.9702);">СҮ</div>
<div class="t f1" style="left:433.73px;top:560.85px;font-size:13.3px;transform:scaleX(0.9738);">56</div>
<div class="b" style="left:421.30px;top:575.7px;width:43.6px;height:15.8px;background:#e36e6a;border:1px solid rgba(255,235,230,.4);background-image:linear-gradient(to right,rgba(120,0,0,.07),rgba(255,255,255,.07))"></div>
<div class="t f1" style="left:427.27px;top:579.15px;font-size:9.4px;color:#3b2f3d;transform:scaleX(0.9286);">12170</div>
<div class="b" style="left:470.55px;top:541.7px;width:43.6px;height:15.3px;background:#ffffff;"></div>
<div class="t f1" style="left:485.75px;top:545.69px;font-size:9.0px;color:#1d2b40;transform:scaleX(0.9702);">СЭ</div>
<div class="t f1" style="left:482.98px;top:560.85px;font-size:13.3px;transform:scaleX(0.9738);">18</div>
<div class="b" style="left:470.55px;top:575.7px;width:43.6px;height:15.8px;background:#d65652;border:1px solid rgba(255,235,230,.4);background-image:linear-gradient(to right,rgba(120,0,0,.07),rgba(255,255,255,.07))"></div>
<div class="t f1" style="left:476.49px;top:579.15px;font-size:9.4px;color:#3b2f3d;transform:scaleX(0.9584);">15198</div>
<div class="b" style="left:519.8px;top:541.7px;width:43.6px;height:15.3px;background:#ffffff;"></div>
<div class="t f1" style="left:535.00px;top:545.69px;font-size:9.0px;color:#1d2b40;transform:scaleX(0.9336);">ТӨ</div>
<div class="t f1" style="left:533.20px;top:560.85px;font-size:13.3px;transform:scaleX(0.9204);">31</div>
<div class="b" style="left:519.80px;top:575.7px;width:43.6px;height:15.8px;background:#dc5f5b;border:1px solid rgba(255,235,230,.4);background-image:linear-gradient(to right,rgba(120,0,0,.07),rgba(255,255,255,.07))"></div>
<div class="t f1" style="left:525.74px;top:579.15px;font-size:9.4px;color:#3b2f3d;transform:scaleX(0.9584);">13039</div>
<div class="b" style="left:569.05px;top:541.7px;width:43.6px;height:15.3px;background:#ffffff;"></div>
<div class="t f1" style="left:584.25px;top:545.69px;font-size:9.0px;color:#1d2b40;transform:scaleX(0.9470);">УВ</div>
<div class="t f1" style="left:586.75px;top:560.85px;font-size:13.3px;transform:scaleX(0.9111);">0</div>
<div class="b" style="left:569.05px;top:575.7px;width:43.6px;height:15.8px;background:#dc5f5b;border:1px solid rgba(255,235,230,.4);background-image:linear-gradient(to right,rgba(120,0,0,.07),rgba(255,255,255,.07))"></div>
<div class="t f1" style="left:574.99px;top:579.15px;font-size:9.4px;color:#3b2f3d;transform:scaleX(0.9584);">14513</div>
<div class="b" style="left:618.3px;top:541.7px;width:43.6px;height:15.3px;background:#ffffff;"></div>
<div class="t f1" style="left:633.50px;top:545.69px;font-size:9.0px;color:#1d2b40;transform:scaleX(0.8836);">ХО</div>
<div class="t f1" style="left:631.70px;top:560.85px;font-size:13.3px;transform:scaleX(0.9204);">32</div>
<div class="b" style="left:618.30px;top:575.7px;width:43.6px;height:15.8px;background:#dc5f5b;border:1px solid rgba(255,235,230,.4);background-image:linear-gradient(to right,rgba(120,0,0,.07),rgba(255,255,255,.07))"></div>
<div class="t f1" style="left:624.24px;top:579.15px;font-size:9.4px;color:#3b2f3d;transform:scaleX(0.9584);">18461</div>
<div class="b" style="left:667.55px;top:541.7px;width:43.6px;height:15.3px;background:#ffffff;"></div>
<div class="t f1" style="left:682.75px;top:545.69px;font-size:9.0px;color:#1d2b40;transform:scaleX(0.8836);">ХӨ</div>
<div class="t f1" style="left:679.98px;top:560.85px;font-size:13.3px;transform:scaleX(0.9738);">12</div>
<div class="b" style="left:667.55px;top:575.7px;width:43.6px;height:15.8px;background:#d65652;border:1px solid rgba(255,235,230,.4);background-image:linear-gradient(to right,rgba(120,0,0,.07),rgba(255,255,255,.07))"></div>
<div class="t f1" style="left:673.49px;top:579.15px;font-size:9.4px;color:#3b2f3d;transform:scaleX(0.9584);">15795</div>
<div class="b" style="left:716.8px;top:541.7px;width:43.6px;height:15.3px;background:#ffffff;"></div>
<div class="t f1" style="left:732.00px;top:545.69px;font-size:9.0px;color:#1d2b40;transform:scaleX(0.9470);">ХЭ</div>
<div class="t f1" style="left:729.23px;top:560.85px;font-size:13.3px;transform:scaleX(0.9738);">52</div>
<div class="b" style="left:716.80px;top:575.7px;width:43.6px;height:15.8px;background:#eaa9a7;border:1px solid rgba(255,235,230,.4);background-image:linear-gradient(to right,rgba(120,0,0,.07),rgba(255,255,255,.07))"></div>
<div class="t f1" style="left:722.77px;top:579.15px;font-size:9.4px;color:#3b2f3d;transform:scaleX(0.9286);">11054</div>
<svg width="359" height="193" viewBox="779 204 359 193" style="left:779px;top:204px"><line x1="798.1" x2="1135.0" y1="231.69" y2="231.69" stroke="#e4e4e4" stroke-width="0.6"/><line x1="798.1" x2="1135.0" y1="244.92" y2="244.92" stroke="#e4e4e4" stroke-width="0.6"/><line x1="798.1" x2="1135.0" y1="258.77" y2="258.77" stroke="#e4e4e4" stroke-width="0.6"/><line x1="798.1" x2="1135.0" y1="272.31" y2="272.31" stroke="#e4e4e4" stroke-width="0.6"/><line x1="798.1" x2="1135.0" y1="286.15" y2="286.15" stroke="#e4e4e4" stroke-width="0.6"/><line x1="798.1" x2="1135.0" y1="300.00" y2="300.00" stroke="#e4e4e4" stroke-width="0.6"/><line x1="798.1" x2="1135.0" y1="313.54" y2="313.54" stroke="#e4e4e4" stroke-width="0.6"/><line x1="798.1" x2="1135.0" y1="327.08" y2="327.08" stroke="#e4e4e4" stroke-width="0.6"/><line x1="798.1" x2="1135.0" y1="340.92" y2="340.92" stroke="#e4e4e4" stroke-width="0.6"/><line x1="798.1" x2="1135.0" y1="354.77" y2="354.77" stroke="#cfcfcf" stroke-width="0.6"/><path fill="#8fa9dc" d="M798.21 354.77V354.60h0.96V354.77zM799.16 354.77V354.57h0.96V354.77zM800.11 354.77V354.55h0.96V354.77zM801.06 354.77V354.52h0.96V354.77zM802.01 354.77V354.49h0.96V354.77zM802.96 354.77V354.47h0.96V354.77zM803.91 354.77V354.46h0.96V354.77zM804.86 354.77V354.46h0.96V354.77zM805.81 354.77V354.46h0.96V354.77zM806.76 354.77V354.45h0.96V354.77zM807.70 354.77V354.45h0.96V354.77zM808.65 354.77V354.45h0.96V354.77zM809.60 354.77V354.45h0.96V354.77zM810.55 354.77V354.44h0.96V354.77zM811.50 354.77V354.44h0.96V354.77zM812.45 354.77V354.44h0.96V354.77zM813.40 354.77V354.44h0.96V354.77zM814.35 354.77V354.44h0.96V354.77zM815.30 354.77V354.43h0.96V354.77zM816.25 354.77V354.43h0.96V354.77zM817.20 354.77V354.43h0.96V354.77zM818.15 354.77V354.43h0.96V354.77zM819.10 354.77V354.43h0.96V354.77zM820.04 354.77V354.42h0.96V354.77zM820.99 354.77V354.42h0.96V354.77zM821.94 354.77V354.42h0.96V354.77zM822.89 354.77V354.42h0.96V354.77zM823.84 354.77V354.41h0.96V354.77zM824.79 354.77V354.41h0.96V354.77zM825.74 354.77V354.41h0.96V354.77zM826.69 354.77V354.41h0.96V354.77zM827.64 354.77V354.41h0.96V354.77zM828.59 354.77V354.40h0.96V354.77zM829.54 354.77V354.40h0.96V354.77zM830.49 354.77V354.40h0.96V354.77zM831.44 354.77V354.40h0.96V354.77zM832.38 354.77V354.40h0.96V354.77zM833.33 354.77V354.39h0.96V354.77zM834.28 354.77V354.39h0.96V354.77zM835.23 354.77V354.39h0.96V354.77zM836.18 354.77V354.39h0.96V354.77zM837.13 354.77V354.38h0.96V354.77zM838.08 354.77V354.38h0.96V354.77zM839.03 354.77V354.38h0.96V354.77zM839.98 354.77V354.38h0.96V354.77zM840.93 354.77V354.38h0.96V354.77zM841.88 354.77V354.37h0.96V354.77zM842.83 354.77V354.37h0.96V354.77zM843.78 354.77V354.37h0.96V354.77zM844.72 354.77V354.37h0.96V354.77zM845.67 354.77V354.36h0.96V354.77zM846.62 354.77V354.36h0.96V354.77zM847.57 354.77V354.36h0.96V354.77zM848.52 354.77V354.36h0.96V354.77zM849.47 354.77V354.36h0.96V354.77zM850.42 354.77V354.35h0.96V354.77zM851.37 354.77V354.35h0.96V354.77zM852.32 354.77V354.35h0.96V354.77zM853.27 354.77V354.35h0.96V354.77zM854.22 354.77V354.35h0.96V354.77zM855.17 354.77V354.34h0.96V354.77zM856.12 354.77V354.34h0.96V354.77zM857.06 354.77V354.34h0.96V354.77zM858.01 354.77V354.34h0.96V354.77zM858.96 354.77V354.33h0.96V354.77zM859.91 354.77V354.33h0.96V354.77zM860.86 354.77V354.33h0.96V354.77zM861.81 354.77V354.33h0.96V354.77zM862.76 354.77V354.33h0.96V354.77zM863.71 354.77V354.32h0.96V354.77zM864.66 354.77V354.32h0.96V354.77zM865.61 354.77V354.32h0.96V354.77zM866.56 354.77V354.32h0.96V354.77zM867.51 354.77V354.32h0.96V354.77zM868.46 354.77V354.31h0.96V354.77zM869.40 354.77V354.31h0.96V354.77zM870.35 354.77V354.31h0.96V354.77zM871.30 354.77V354.31h0.96V354.77zM872.25 354.77V354.30h0.96V354.77zM873.20 354.77V354.30h0.96V354.77zM874.15 354.77V354.29h0.96V354.77zM875.10 354.77V354.29h0.96V354.77zM876.05 354.77V354.28h0.96V354.77zM877.00 354.77V354.28h0.96V354.77zM877.95 354.77V354.27h0.96V354.77zM878.90 354.77V354.27h0.96V354.77zM879.85 354.77V354.26h0.96V354.77zM880.80 354.77V354.26h0.96V354.77zM881.74 354.77V354.25h0.96V354.77zM882.69 354.77V354.25h0.96V354.77zM883.64 354.77V354.24h0.96V354.77zM884.59 354.77V354.24h0.96V354.77zM885.54 354.77V354.23h0.96V354.77zM886.49 354.77V354.23h0.96V354.77zM887.44 354.77V354.22h0.96V354.77zM888.39 354.77V354.22h0.96V354.77zM889.34 354.77V354.22h0.96V354.77zM890.29 354.77V354.21h0.96V354.77zM891.24 354.77V354.21h0.96V354.77zM892.19 354.77V354.20h0.96V354.77zM893.13 354.77V354.20h0.96V354.77zM894.08 354.77V354.19h0.96V354.77zM895.03 354.77V354.19h0.96V354.77zM895.98 354.77V354.18h0.96V354.77zM896.93 354.77V354.18h0.96V354.77zM897.88 354.77V354.17h0.96V354.77zM898.83 354.77V354.17h0.96V354.77zM899.78 354.77V354.16h0.96V354.77zM900.73 354.77V354.16h0.96V354.77zM901.68 354.77V354.15h0.96V354.77zM902.63 354.77V354.12h0.96V354.77zM903.58 354.77V354.09h0.96V354.77zM904.53 354.77V354.06h0.96V354.77zM905.47 354.77V354.02h0.96V354.77zM906.42 354.77V353.99h0.96V354.77zM907.37 354.77V353.96h0.96V354.77zM908.32 354.77V353.93h0.96V354.77zM909.27 354.77V353.90h0.96V354.77zM910.22 354.77V353.87h0.96V354.77zM911.17 354.77V353.80h0.96V354.77zM912.12 354.77V353.67h0.96V354.77zM913.07 354.77V353.55h0.96V354.77zM914.02 354.77V353.42h0.96V354.77zM914.97 354.77V353.29h0.96V354.77zM915.92 354.77V353.17h0.96V354.77zM916.87 354.77V353.04h0.96V354.77zM917.81 354.77V352.91h0.96V354.77zM918.76 354.77V352.79h0.96V354.77zM919.71 354.77V352.66h0.96V354.77zM920.66 354.77V352.40h0.96V354.77zM921.61 354.77V352.07h0.96V354.77zM922.56 354.77V351.74h0.96V354.77zM923.51 354.77V352.60h0.96V354.77zM924.46 354.77V350.82h0.96V354.77zM925.41 354.77V350.54h0.96V354.77zM926.36 354.77V349.70h0.96V354.77zM927.31 354.77V349.72h0.96V354.77zM928.26 354.77V350.10h0.96V354.77zM929.21 354.77V350.58h0.96V354.77zM930.15 354.77V350.78h0.96V354.77zM931.10 354.77V348.07h0.96V354.77zM932.05 354.77V347.64h0.96V354.77zM933.00 354.77V346.65h0.96V354.77zM933.95 354.77V346.31h0.96V354.77zM934.90 354.77V347.19h0.96V354.77zM935.85 354.77V348.26h0.96V354.77zM936.80 354.77V349.28h0.96V354.77zM937.75 354.77V345.74h0.96V354.77zM938.70 354.77V344.28h0.96V354.77zM939.65 354.77V344.57h0.96V354.77zM940.60 354.77V343.16h0.96V354.77zM941.55 354.77V344.68h0.96V354.77zM942.49 354.77V346.36h0.96V354.77zM943.44 354.77V345.47h0.96V354.77zM944.39 354.77V340.66h0.96V354.77zM945.34 354.77V340.48h0.96V354.77zM946.29 354.77V339.81h0.96V354.77zM947.24 354.77V341.39h0.96V354.77zM948.19 354.77V340.30h0.96V354.77zM949.14 354.77V341.48h0.96V354.77zM950.09 354.77V343.03h0.96V354.77zM951.04 354.77V336.43h0.96V354.77zM951.99 354.77V336.84h0.96V354.77zM952.94 354.77V337.51h0.96V354.77zM953.89 354.77V338.64h0.96V354.77zM954.83 354.77V337.41h0.96V354.77zM955.78 354.77V341.18h0.96V354.77zM956.73 354.77V342.39h0.96V354.77zM957.68 354.77V337.11h0.96V354.77zM958.63 354.77V336.69h0.96V354.77zM959.58 354.77V335.99h0.96V354.77zM960.53 354.77V336.34h0.96V354.77zM961.48 354.77V338.16h0.96V354.77zM962.43 354.77V341.60h0.96V354.77zM963.38 354.77V343.45h0.96V354.77zM964.33 354.77V337.61h0.96V354.77zM965.28 354.77V339.01h0.96V354.77zM966.23 354.77V339.88h0.96V354.77zM967.17 354.77V341.54h0.96V354.77zM968.12 354.77V343.70h0.96V354.77zM969.07 354.77V346.19h0.96V354.77zM970.02 354.77V347.27h0.96V354.77zM970.97 354.77V343.70h0.96V354.77zM971.92 354.77V342.80h0.96V354.77zM972.87 354.77V343.80h0.96V354.77zM973.82 354.77V345.85h0.96V354.77zM974.77 354.77V345.83h0.96V354.77zM975.72 354.77V347.63h0.96V354.77zM976.67 354.77V348.75h0.96V354.77zM977.62 354.77V346.61h0.96V354.77zM978.57 354.77V346.67h0.96V354.77zM979.51 354.77V346.96h0.96V354.77zM980.46 354.77V347.05h0.96V354.77zM981.41 354.77V347.25h0.96V354.77zM982.36 354.77V347.87h0.96V354.77zM983.31 354.77V348.19h0.96V354.77zM984.26 354.77V344.03h0.96V354.77zM985.21 354.77V343.70h0.96V354.77zM986.16 354.77V343.61h0.96V354.77zM987.11 354.77V343.23h0.96V354.77zM988.06 354.77V344.91h0.96V354.77zM989.01 354.77V345.19h0.96V354.77zM989.96 354.77V345.50h0.96V354.77zM990.91 354.77V339.81h0.96V354.77zM991.85 354.77V338.32h0.96V354.77zM992.80 354.77V339.25h0.96V354.77zM993.75 354.77V339.50h0.96V354.77zM994.70 354.77V337.19h0.96V354.77zM995.65 354.77V340.68h0.96V354.77zM996.60 354.77V340.30h0.96V354.77zM997.55 354.77V329.33h0.96V354.77zM998.50 354.77V328.61h0.96V354.77zM999.45 354.77V328.37h0.96V354.77zM1000.40 354.77V324.37h0.96V354.77zM1001.35 354.77V325.35h0.96V354.77zM1002.30 354.77V331.88h0.96V354.77zM1003.25 354.77V333.66h0.96V354.77zM1004.19 354.77V319.00h0.96V354.77zM1005.14 354.77V307.96h0.96V354.77zM1006.09 354.77V295.08h0.96V354.77zM1007.04 354.77V314.11h0.96V354.77zM1007.99 354.77V308.37h0.96V354.77zM1008.94 354.77V313.71h0.96V354.77zM1009.89 354.77V319.41h0.96V354.77zM1010.84 354.77V300.36h0.96V354.77zM1011.79 354.77V292.79h0.96V354.77zM1012.74 354.77V302.11h0.96V354.77zM1013.69 354.77V305.60h0.96V354.77zM1014.64 354.77V299.07h0.96V354.77zM1015.59 354.77V312.36h0.96V354.77zM1016.53 354.77V318.88h0.96V354.77zM1017.48 354.77V294.48h0.96V354.77zM1018.43 354.77V297.76h0.96V354.77zM1019.38 354.77V292.92h0.96V354.77zM1020.33 354.77V301.00h0.96V354.77zM1021.28 354.77V310.54h0.96V354.77zM1022.23 354.77V319.13h0.96V354.77zM1023.18 354.77V324.15h0.96V354.77zM1024.13 354.77V308.46h0.96V354.77zM1025.08 354.77V304.02h0.96V354.77zM1026.03 354.77V312.22h0.96V354.77zM1026.98 354.77V314.07h0.96V354.77zM1027.93 354.77V320.25h0.96V354.77zM1028.87 354.77V323.91h0.96V354.77zM1029.82 354.77V332.15h0.96V354.77zM1030.77 354.77V321.06h0.96V354.77zM1031.72 354.77V320.06h0.96V354.77zM1032.67 354.77V322.08h0.96V354.77zM1033.62 354.77V327.56h0.96V354.77zM1034.57 354.77V327.00h0.96V354.77zM1035.52 354.77V333.84h0.96V354.77zM1036.47 354.77V336.35h0.96V354.77zM1037.42 354.77V325.86h0.96V354.77zM1038.37 354.77V327.35h0.96V354.77zM1039.32 354.77V327.14h0.96V354.77zM1040.27 354.77V329.86h0.96V354.77zM1041.21 354.77V332.47h0.96V354.77zM1042.16 354.77V333.62h0.96V354.77zM1043.11 354.77V338.66h0.96V354.77zM1044.06 354.77V328.51h0.96V354.77zM1045.01 354.77V326.45h0.96V354.77zM1045.96 354.77V329.94h0.96V354.77zM1046.91 354.77V332.59h0.96V354.77zM1047.86 354.77V333.62h0.96V354.77zM1048.81 354.77V337.63h0.96V354.77zM1049.76 354.77V339.33h0.96V354.77zM1050.71 354.77V333.94h0.96V354.77zM1051.66 354.77V331.01h0.96V354.77zM1052.60 354.77V334.30h0.96V354.77zM1053.55 354.77V335.13h0.96V354.77zM1054.50 354.77V334.54h0.96V354.77zM1055.45 354.77V339.24h0.96V354.77zM1056.40 354.77V341.17h0.96V354.77zM1057.35 354.77V332.69h0.96V354.77zM1058.30 354.77V330.81h0.96V354.77zM1059.25 354.77V334.40h0.96V354.77zM1060.20 354.77V334.48h0.96V354.77zM1061.15 354.77V336.05h0.96V354.77zM1062.10 354.77V339.26h0.96V354.77zM1063.05 354.77V340.34h0.96V354.77zM1064.00 354.77V332.59h0.96V354.77zM1064.94 354.77V330.41h0.96V354.77zM1065.89 354.77V331.79h0.96V354.77zM1066.84 354.77V329.68h0.96V354.77zM1067.79 354.77V331.21h0.96V354.77zM1068.74 354.77V334.06h0.96V354.77zM1069.69 354.77V335.71h0.96V354.77zM1070.64 354.77V327.58h0.96V354.77zM1071.59 354.77V322.88h0.96V354.77zM1072.54 354.77V321.34h0.96V354.77zM1073.49 354.77V321.78h0.96V354.77zM1074.44 354.77V326.62h0.96V354.77zM1075.39 354.77V330.93h0.96V354.77zM1076.34 354.77V330.87h0.96V354.77zM1077.28 354.77V317.64h0.96V354.77zM1078.23 354.77V311.56h0.96V354.77zM1079.18 354.77V312.64h0.96V354.77zM1080.13 354.77V304.82h0.96V354.77zM1081.08 354.77V302.73h0.96V354.77zM1082.03 354.77V307.54h0.96V354.77zM1082.98 354.77V315.73h0.96V354.77zM1083.93 354.77V280.02h0.96V354.77zM1084.88 354.77V271.76h0.96V354.77zM1085.83 354.77V284.76h0.96V354.77zM1086.78 354.77V276.08h0.96V354.77zM1087.73 354.77V278.94h0.96V354.77zM1088.68 354.77V299.93h0.96V354.77zM1089.62 354.77V297.89h0.96V354.77zM1090.57 354.77V272.42h0.96V354.77zM1091.52 354.77V262.55h0.96V354.77zM1092.47 354.77V255.75h0.96V354.77zM1093.42 354.77V245.54h0.96V354.77zM1094.37 354.77V271.54h0.96V354.77zM1095.32 354.77V279.89h0.96V354.77zM1096.27 354.77V285.47h0.96V354.77zM1097.22 354.77V228.62h0.96V354.77zM1098.17 354.77V241.94h0.96V354.77zM1099.12 354.77V245.28h0.96V354.77zM1100.07 354.77V241.35h0.96V354.77zM1101.02 354.77V263.01h0.96V354.77zM1101.96 354.77V271.86h0.96V354.77zM1102.91 354.77V239.38h0.96V354.77zM1103.86 354.77V255.69h0.96V354.77zM1104.81 354.77V244.64h0.96V354.77zM1105.76 354.77V247.60h0.96V354.77zM1106.71 354.77V255.30h0.96V354.77zM1107.66 354.77V308.00h0.96V354.77zM1108.61 354.77V273.54h0.96V354.77zM1109.56 354.77V287.30h0.96V354.77zM1110.51 354.77V246.78h0.96V354.77zM1111.46 354.77V259.11h0.96V354.77zM1112.41 354.77V262.11h0.96V354.77zM1113.36 354.77V269.32h0.96V354.77zM1114.30 354.77V260.56h0.96V354.77zM1115.25 354.77V284.77h0.96V354.77zM1116.20 354.77V294.90h0.96V354.77zM1117.15 354.77V245.54h0.96V354.77zM1118.10 354.77V239.09h0.96V354.77zM1119.05 354.77V249.67h0.96V354.77zM1120.00 354.77V264.89h0.96V354.77zM1120.95 354.77V273.27h0.96V354.77zM1121.90 354.77V278.46h0.96V354.77zM1122.85 354.77V293.30h0.96V354.77zM1123.80 354.77V256.96h0.96V354.77zM1124.75 354.77V264.75h0.96V354.77zM1125.70 354.77V272.48h0.96V354.77zM1126.64 354.77V265.82h0.96V354.77zM1127.59 354.77V276.57h0.96V354.77zM1128.54 354.77V296.55h0.96V354.77zM1129.49 354.77V311.08h0.96V354.77zM1130.44 354.77V272.31h0.96V354.77zM1131.39 354.77V264.21h0.96V354.77zM1132.34 354.77V284.03h0.96V354.77zM1133.29 354.77V275.24h0.96V354.77z"/><polyline fill="none" stroke="#df2a3c" stroke-width="1.5" stroke-linejoin="round" points="798.1,354.6 803.6,354.5 871.3,354.3 902.1,354.2 911.3,353.8 920.5,352.6 926.7,350.5 932.8,348.0 939.0,345.5 945.2,341.8 951.3,338.8 955.9,337.8 960.5,338.5 965.2,340.0 969.8,343.1 974.4,346.2 979.0,347.4 983.6,346.2 988.2,344.0 992.8,340.9 997.5,334.8 1000.5,328.6 1003.6,322.5 1006.7,314.8 1009.8,307.1 1012.2,301.8 1014.4,302.5 1017.5,304.0 1022.1,307.1 1025.2,311.1 1028.2,316.3 1031.3,324.0 1034.4,328.6 1039.0,328.6 1043.6,330.2 1048.2,333.2 1052.8,334.8 1057.5,335.7 1062.1,335.7 1066.7,333.2 1071.3,328.6 1075.9,322.5 1079.0,314.8 1082.1,302.5 1085.2,285.5 1088.2,284.0 1091.3,277.8 1094.4,265.5 1097.5,253.2 1099.6,249.5 1102.1,251.7 1105.2,256.3 1108.2,260.9 1111.3,265.5 1114.4,264.0 1117.5,261.8 1120.5,264.0 1123.6,268.6 1126.7,271.7 1129.8,276.3 1132.8,283.4"/><g font-family="Liberation Sans,sans-serif" font-size="4.25" fill="#555" font-weight="bold"><text transform="translate(800.61,358.0) rotate(-90)" text-anchor="end">2020.11.10</text><text transform="translate(804.31,358.0) rotate(-90)" text-anchor="end">2020.11.13</text><text transform="translate(808.02,358.0) rotate(-90)" text-anchor="end">2020.11.17</text><text transform="translate(811.73,358.0) rotate(-90)" text-anchor="end">2020.11.21</text><text transform="translate(815.43,358.0) rotate(-90)" text-anchor="end">11.25</text><text transform="translate(819.14,358.0) rotate(-90)" text-anchor="end">2020.11.29</text><text transform="translate(822.84,358.0) rotate(-90)" text-anchor="end">2020.12.3</text><text transform="translate(826.55,358.0) rotate(-90)" text-anchor="end">2020.12.7</text><text transform="translate(830.26,358.0) rotate(-90)" text-anchor="end">2020.12.11</text><text transform="translate(833.96,358.0) rotate(-90)" text-anchor="end">2020.12.15</text><text transform="translate(837.67,358.0) rotate(-90)" text-anchor="end">2020.12.19</text><text transform="translate(841.37,358.0) rotate(-90)" text-anchor="end">2020.12.23</text><text transform="translate(845.08,358.0) rotate(-90)" text-anchor="end">2020.12.27</text><text transform="translate(848.79,358.0) rotate(-90)" text-anchor="end">12.30</text><text transform="translate(852.49,358.0) rotate(-90)" text-anchor="end">2021.1.3</text><text transform="translate(856.20,358.0) rotate(-90)" text-anchor="end">2021.1.7</text><text transform="translate(859.90,358.0) rotate(-90)" text-anchor="end">2021.1.11</text><text transform="translate(863.61,358.0) rotate(-90)" text-anchor="end">2021.1.15</text><text transform="translate(867.32,358.0) rotate(-90)" text-anchor="end">2021.1.19</text><text transform="translate(871.02,358.0) rotate(-90)" text-anchor="end">2021.1.23</text><text transform="translate(874.73,358.0) rotate(-90)" text-anchor="end">2021.1.27</text><text transform="translate(878.43,358.0) rotate(-90)" text-anchor="end">2021.1.31</text><text transform="translate(882.14,358.0) rotate(-90)" text-anchor="end">2.4</text><text transform="translate(885.85,358.0) rotate(-90)" text-anchor="end">2021.2.8</text><text transform="translate(889.55,358.0) rotate(-90)" text-anchor="end">2021.2.12</text><text transform="translate(893.26,358.0) rotate(-90)" text-anchor="end">2021.2.16</text><text transform="translate(896.96,358.0) rotate(-90)" text-anchor="end">2021.2.19</text><text transform="translate(900.67,358.0) rotate(-90)" text-anchor="end">2021.2.23</text><text transform="translate(904.38,358.0) rotate(-90)" text-anchor="end">2021.2.27</text><text transform="translate(908.08,358.0) rotate(-90)" text-anchor="end">2021.3.3</text><text transform="translate(911.79,358.0) rotate(-90)" text-anchor="end">2021.3.7</text><text transform="translate(915.49,358.0) rotate(-90)" text-anchor="end">3.11</text><text transform="translate(919.20,358.0) rotate(-90)" text-anchor="end">2021.3.15</text><text transform="translate(922.91,358.0) rotate(-90)" text-anchor="end">2021.3.19</text><text transform="translate(926.61,358.0) rotate(-90)" text-anchor="end">2021.3.23</text><text transform="translate(930.32,358.0) rotate(-90)" text-anchor="end">2021.3.27</text><text transform="translate(934.02,358.0) rotate(-90)" text-anchor="end">2021.3.31</text><text transform="translate(937.73,358.0) rotate(-90)" text-anchor="end">2021.4.4</text><text transform="translate(941.44,358.0) rotate(-90)" text-anchor="end">2021.4.8</text><text transform="translate(945.14,358.0) rotate(-90)" text-anchor="end">2021.4.11</text><text transform="translate(948.85,358.0) rotate(-90)" text-anchor="end">4.15</text><text transform="translate(952.55,358.0) rotate(-90)" text-anchor="end">2021.4.19</text><text transform="translate(956.26,358.0) rotate(-90)" text-anchor="end">2021.4.23</text><text transform="translate(959.96,358.0) rotate(-90)" text-anchor="end">2021.4.27</text><text transform="translate(963.67,358.0) rotate(-90)" text-anchor="end">2021.5.1</text><text transform="translate(967.38,358.0) rotate(-90)" text-anchor="end">2021.5.5</text><text transform="translate(971.08,358.0) rotate(-90)" text-anchor="end">2021.5.9</text><text transform="translate(974.79,358.0) rotate(-90)" text-anchor="end">2021.5.13</text><text transform="translate(978.49,358.0) rotate(-90)" text-anchor="end">2021.5.17</text><text transform="translate(982.20,358.0) rotate(-90)" text-anchor="end">5.21</text><text transform="translate(985.91,358.0) rotate(-90)" text-anchor="end">2021.5.25</text><text transform="translate(989.61,358.0) rotate(-90)" text-anchor="end">2021.5.29</text><text transform="translate(993.32,358.0) rotate(-90)" text-anchor="end">2021.6.1</text><text transform="translate(997.02,358.0) rotate(-90)" text-anchor="end">2021.6.5</text><text transform="translate(1000.73,358.0) rotate(-90)" text-anchor="end">2021.6.9</text><text transform="translate(1004.44,358.0) rotate(-90)" text-anchor="end">2021.6.13</text><text transform="translate(1008.14,358.0) rotate(-90)" text-anchor="end">2021.6.17</text><text transform="translate(1011.85,358.0) rotate(-90)" text-anchor="end">2021.6.21</text><text transform="translate(1015.55,358.0) rotate(-90)" text-anchor="end">6.25</text><text transform="translate(1019.26,358.0) rotate(-90)" text-anchor="end">2021.6.29</text><text transform="translate(1022.97,358.0) rotate(-90)" text-anchor="end">2021.7.3</text><text transform="translate(1026.67,358.0) rotate(-90)" text-anchor="end">2021.7.7</text><text transform="translate(1030.38,358.0) rotate(-90)" text-anchor="end">2021.7.11</text><text transform="translate(1034.08,358.0) rotate(-90)" text-anchor="end">2021.7.15</text><text transform="translate(1037.79,358.0) rotate(-90)" text-anchor="end">2021.7.19</text><text transform="translate(1041.50,358.0) rotate(-90)" text-anchor="end">2021.7.22</text><text transform="translate(1045.20,358.0) rotate(-90)" text-anchor="end">2021.7.26</text><text transform="translate(1048.91,358.0) rotate(-90)" text-anchor="end">7.30</text><text transform="translate(1052.61,358.0) rotate(-90)" text-anchor="end">2021.8.3</text><text transform="translate(1056.32,358.0) rotate(-90)" text-anchor="end">2021.8.7</text><text transform="translate(1060.03,358.0) rotate(-90)" text-anchor="end">2021.8.11</text><text transform="translate(1063.73,358.0) rotate(-90)" text-anchor="end">2021.8.15</text><text transform="translate(1067.44,358.0) rotate(-90)" text-anchor="end">2021.8.19</text><text transform="translate(1071.14,358.0) rotate(-90)" text-anchor="end">2021.8.23</text><text transform="translate(1074.85,358.0) rotate(-90)" text-anchor="end">2021.8.27</text><text transform="translate(1078.56,358.0) rotate(-90)" text-anchor="end">2021.8.31</text><text transform="translate(1082.26,358.0) rotate(-90)" text-anchor="end">9.4</text><text transform="translate(1085.97,358.0) rotate(-90)" text-anchor="end">2021.9.8</text><text transform="translate(1089.67,358.0) rotate(-90)" text-anchor="end">2021.9.11</text><text transform="translate(1093.38,358.0) rotate(-90)" text-anchor="end">2021.9.15</text><text transform="translate(1097.09,358.0) rotate(-90)" text-anchor="end">2021.9.19</text><text transform="translate(1100.79,358.0) rotate(-90)" text-anchor="end">2021.9.23</text><text transform="translate(1104.50,358.0) rotate(-90)" text-anchor="end">2021.9.27</text><text transform="translate(1108.20,358.0) rotate(-90)" text-anchor="end">2021.10.1</text><text transform="translate(1111.91,358.0) rotate(-90)" text-anchor="end">2021.10.5</text><text transform="translate(1115.62,358.0) rotate(-90)" text-anchor="end">10.9</text><text transform="translate(1119.32,358.0) rotate(-90)" text-anchor="end">2021.10.13</text><text transform="translate(1123.03,358.0) rotate(-90)" text-anchor="end">2021.10.17</text><text transform="translate(1126.73,358.0) rotate(-90)" text-anchor="end">2021.10.21</text><text transform="translate(1130.44,358.0) rotate(-90)" text-anchor="end">2021.10.25</text><text transform="translate(1134.15,358.0) rotate(-90)" text-anchor="end">2021.10.29</text></g><line x1="913.5" x2="918" y1="392.6" y2="392.6" stroke="#8fa9dc" stroke-width="1"/><line x1="974.4" x2="982" y1="392.6" y2="392.6" stroke="#e0222c" stroke-width="1"/><g font-family="Liberation Sans,sans-serif" font-size="3.7" fill="#555" font-weight="normal"><text x="919.2" y="393.9">нийт батлагдсан тохиолдол</text><text x="983.4" y="393.9">7 хоногийн хөдөлгөөнт дундаж</text></g></svg>
<div class="t f1" style="left:842.53px;top:464.33px;font-size:13.2px;color:#ffc20e;font-weight:normal;-webkit-text-stroke:0;transform:scaleX(0.9711);">I тун:</div>
<div class="t f1" style="left:802.67px;top:481.63px;font-size:22.3px;transform:scaleX(0.9250);">2,255,155</div>
<div class="t f1" style="left:820.26px;top:507.63px;font-size:17.7px;color:#ffc20e;transform:scaleX(1.0418);">(69,3%)</div>
<div class="t f1" style="left:1035.04px;top:465.03px;font-size:13.2px;color:#ffc20e;font-weight:normal;-webkit-text-stroke:0;transform:scaleX(0.9612);">II тун:</div>
<div class="t f1" style="left:997.37px;top:482.83px;font-size:22.3px;transform:scaleX(0.9258);">2,139,222</div>
<div class="t f1" style="left:1014.47px;top:510.03px;font-size:17.7px;color:#ffc20e;transform:scaleX(1.0286);">(65,8%)</div>
<div class="t f1" style="left:895.80px;top:558.33px;font-size:13.2px;color:#ffc20e;font-weight:normal;-webkit-text-stroke:0;transform:scaleX(0.8602);">Дархлаа сэргээх тун:</div>
<div class="t f1" style="left:912.40px;top:574.69px;font-size:22.0px;transform:scaleX(0.9384);">404,939</div>
<div class="t f1" style="left:57.50px;top:684.62px;font-size:7.9px;transform:scaleX(0.9575);">ХҮЙСЭЭР</div>
<div class="t f1" style="left:164.52px;top:671.03px;font-size:18.4px;color:#ffc20e;transform:scaleX(0.9818);">5</div>
<div class="t f1" style="left:164.60px;top:689.73px;font-size:8.0px;transform:scaleX(0.9352);">ЭМЭГТЭЙ</div>
<div class="t f1" style="left:304.22px;top:671.03px;font-size:18.4px;color:#ffc20e;transform:scaleX(0.9818);">7</div>
<div class="t f1" style="left:305.20px;top:691.23px;font-size:8.0px;transform:scaleX(0.9243);">ЭРЭГТЭЙ</div>
<div class="t f1" style="left:57.50px;top:734.62px;font-size:7.9px;transform:scaleX(0.8825);">НАСААР</div>
<div class="b" style="left:127.0px;top:715.2px;width:32.2px;height:32.2px;border:1.4px solid #e6edf8;border-radius:50%"></div>
<div class="t f1" style="left:138.20px;top:724.54px;font-size:15.2px;color:#ffc20e;transform:scaleX(0.9800);">0</div>
<div class="b" style="left:180.4px;top:715.2px;width:32.2px;height:32.2px;border:1.4px solid #e6edf8;border-radius:50%"></div>
<div class="t f1" style="left:190.51px;top:724.54px;font-size:15.2px;color:#ffc20e;transform:scaleX(1.0889);">1</div>
<div class="b" style="left:234.4px;top:715.2px;width:32.2px;height:32.2px;border:1.4px solid #e6edf8;border-radius:50%"></div>
<div class="t f1" style="left:244.51px;top:724.54px;font-size:15.2px;color:#ffc20e;transform:scaleX(1.0889);">2</div>
<div class="b" style="left:287.3px;top:715.2px;width:32.2px;height:32.2px;border:1.4px solid #e6edf8;border-radius:50%"></div>
<div class="t f1" style="left:297.41px;top:724.54px;font-size:15.2px;color:#ffc20e;transform:scaleX(1.0889);">7</div>
<div class="b" style="left:340.4px;top:715.2px;width:32.2px;height:32.2px;border:1.4px solid #e6edf8;border-radius:50%"></div>
<div class="t f1" style="left:350.51px;top:724.54px;font-size:15.2px;color:#ffc20e;transform:scaleX(1.0889);">2</div>
<div class="t f1" style="left:121.50px;top:751.51px;font-size:9.8px;transform:scaleX(0.9090);">0-20 нас</div>
<div class="t f1" style="left:182.45px;top:751.51px;font-size:9.8px;transform:scaleX(0.8980);">21-40</div>
<div class="t f1" style="left:188.00px;top:763.51px;font-size:9.8px;transform:scaleX(0.8875);">нас</div>
<div class="t f1" style="left:236.15px;top:751.51px;font-size:9.8px;transform:scaleX(0.8980);">41-60</div>
<div class="t f1" style="left:241.70px;top:763.51px;font-size:9.8px;transform:scaleX(0.8875);">нас</div>
<div class="t f1" style="left:288.65px;top:751.51px;font-size:9.8px;transform:scaleX(0.9170);">61-80</div>
<div class="t f1" style="left:294.50px;top:763.51px;font-size:9.8px;transform:scaleX(0.8875);">нас</div>
<div class="t f1" style="left:344.45px;top:751.51px;font-size:9.8px;transform:scaleX(0.9747);">80-с</div>
<div class="t f1" style="left:343.20px;top:763.51px;font-size:9.8px;transform:scaleX(0.8670);">дээш</div>
<div class="t f1" style="left:57.50px;top:790.62px;font-size:7.9px;transform:scaleX(0.9348);">ХҮНДРЭЛ</div>
<div class="t f1" style="left:164.54px;top:790.32px;font-size:14.4px;color:#ffc20e;transform:scaleX(0.9572);">11</div>
<div class="t f1" style="left:128.60px;top:810.72px;font-size:7.9px;transform:scaleX(0.9133);">АРХАГ, ХУУЧ ӨВЧТЭЙ +</div>
<div class="t f1" style="left:128.60px;top:820.62px;font-size:7.9px;transform:scaleX(0.9123);">КОВИД ХАВСАРСАН</div>
<div class="t f1" style="left:303.73px;top:790.32px;font-size:14.4px;color:#ffc20e;transform:scaleX(0.8667);">1</div>
<div class="t f1" style="left:265.50px;top:810.72px;font-size:7.9px;transform:scaleX(0.9384);">КОВИД-19</div>
<svg width="1170" height="878" viewBox="0 0 1170 878" style="left:0;top:0"><circle cx="478.7" cy="730.4" r="48.4" fill="none" stroke="#ffc20e" stroke-width="10.799999999999997"/><path d="M478.70 682.00A48.4 48.4 0 0 0 430.80 723.43" fill="none" stroke="#f2f2f2" stroke-width="10.799999999999997"/><g stroke="#c8a62b" stroke-width="1" fill="none"><path d="M540.8 734.6H559.2M559.2 671.4V817.0M559.2 671.4H578.8M559.2 695.6H578.8M559.2 719.6H578.8M559.2 744.2H578.8M559.2 768.4H578.8M559.2 792.8H578.8M559.2 817.0H578.8"/></g></svg>
<div class="t f1" style="left:456.66px;top:708.52px;font-size:17.0px;transform:scaleX(0.8426);">22.7</div>
<div class="t f1" style="left:494.80px;top:715.96px;font-size:8.2px;transform:scaleX(1.1500);">%</div>
<div class="t f1" style="left:447.46px;top:730.76px;font-size:21.8px;color:#ffc20e;transform:scaleX(0.9378);">77.3</div>
<div class="t f1" style="left:499.20px;top:738.54px;font-size:12.6px;color:#ffc20e;transform:scaleX(1.0615);">%</div>
<div class="b" style="left:424.9px;top:784.2px;width:10px;height:10.3px;background:#ffc20e;"></div>
<div class="b" style="left:424.9px;top:816.3px;width:10px;height:10.3px;background:#ffffff;"></div>
<div class="t f1" style="left:444.60px;top:786.37px;font-size:10.2px;color:#ffc20e;transform:scaleX(0.8487);">Архаг хууч + Ковид</div>
<div class="t f1" style="left:444.60px;top:797.37px;font-size:10.2px;color:#ffc20e;transform:scaleX(0.8332);">хавсарсан</div>
<div class="t f1" style="left:444.60px;top:816.67px;font-size:10.2px;transform:scaleX(0.8319);">Ковид шалтгаант</div>
<div class="t f1" style="left:618.30px;top:666.89px;font-size:12.9px;color:#ffc20e;transform:scaleX(0.8952);">74.0</div>
<div class="t f1" style="left:647.40px;top:673.57px;font-size:5.0px;color:#ffc20e;transform:scaleX(1.4400);">%</div>
<div class="t f1" style="left:661.70px;top:668.98px;font-size:9.6px;transform:scaleX(0.9050);">Зүрх, судасны өвчин</div>
<div class="t f1" style="left:617.38px;top:690.49px;font-size:12.9px;color:#ffc20e;transform:scaleX(0.9243);">23.4</div>
<div class="t f1" style="left:647.40px;top:697.17px;font-size:5.0px;color:#ffc20e;transform:scaleX(1.4400);">%</div>
<div class="t f1" style="left:661.70px;top:692.58px;font-size:9.6px;transform:scaleX(0.9210);">Чихрийн шижин</div>
<div class="t f1" style="left:617.34px;top:714.29px;font-size:12.9px;color:#ffc20e;transform:scaleX(0.9552);">13.3</div>
<div class="t f1" style="left:647.40px;top:720.97px;font-size:5.0px;color:#ffc20e;transform:scaleX(1.4400);">%</div>
<div class="t f1" style="left:661.70px;top:716.38px;font-size:9.6px;transform:scaleX(0.9237);">Бөөрний эмгэг</div>
<div class="t f1" style="left:618.30px;top:738.29px;font-size:12.9px;color:#ffc20e;transform:scaleX(0.9512);">8.3</div>
<div class="t f1" style="left:639.70px;top:744.97px;font-size:5.0px;color:#ffc20e;transform:scaleX(1.4400);">%</div>
<div class="t f1" style="left:661.70px;top:740.38px;font-size:9.6px;transform:scaleX(0.9146);">Элэгний эмгэг</div>
<div class="t f1" style="left:617.38px;top:761.79px;font-size:12.9px;color:#ffc20e;transform:scaleX(0.9243);">12.1</div>
<div class="t f1" style="left:647.40px;top:768.47px;font-size:5.0px;color:#ffc20e;transform:scaleX(1.4400);">%</div>
<div class="t f1" style="left:661.70px;top:763.88px;font-size:9.6px;transform:scaleX(0.9117);">Мэдрэлийн эмгэг</div>
<div class="t f1" style="left:617.35px;top:785.49px;font-size:12.9px;color:#ffc20e;transform:scaleX(0.9512);">5.6</div>
<div class="t f1" style="left:639.70px;top:792.17px;font-size:5.0px;color:#ffc20e;transform:scaleX(1.4400);">%</div>
<div class="t f1" style="left:661.70px;top:787.58px;font-size:9.6px;transform:scaleX(0.8746);">Хавдар</div>
<div class="t f1" style="left:618.30px;top:808.99px;font-size:12.9px;color:#ffc20e;transform:scaleX(0.9512);">6.3</div>
<div class="t f1" style="left:639.70px;top:815.67px;font-size:5.0px;color:#ffc20e;transform:scaleX(1.4400);">%</div>
<div class="t f1" style="left:661.70px;top:811.08px;font-size:9.6px;transform:scaleX(0.8847);">Хэт таргалалт</div>
<div class="t f1" style="left:801.04px;top:672.43px;font-size:18.4px;color:#ffc20e;transform:scaleX(0.9630);">Иргэн Та амны хаалтаа тогтмол</div>
<div class="t f1" style="left:810.30px;top:694.93px;font-size:18.4px;color:#ffc20e;transform:scaleX(0.9451);">зүүж, дархлаа сэргээх нэмэлт</div>
<div class="t f1" style="left:809.40px;top:717.33px;font-size:18.4px;color:#ffc20e;transform:scaleX(0.9532);">тунд хамрагдсанаар өөрийгөө</div>
<div class="t f1" style="left:804.40px;top:739.43px;font-size:18.4px;color:#ffc20e;transform:scaleX(0.9601);">болон гэр бүлээ КОВИД-19-ийн</div>
<div class="t f1" style="left:846.80px;top:762.23px;font-size:18.4px;color:#ffc20e;transform:scaleX(0.9387);">халдвараас хамгаална.</div>
<svg width="1170" height="878" viewBox="0 0 1170 878" style="left:0;top:0"><g fill="#ffffff"><rect x="154.7" y="218.4" width="2.2" height="8.5" rx=".6"/><path d="M154.6 225.5C153.8 223.2 151.5 222.3 149.8 223.2C146.0 225.2 142.6 231.5 141.9 237.0C141.6 239.4 142.4 240.5 144.0 240.4C147.5 240.2 151.5 239.0 153.6 237.4C154.4 236.8 154.6 236.0 154.6 235.0Z"/><path d="M157.0 225.5C157.8 223.2 160.1 222.3 161.8 223.2C165.6 225.2 169.0 231.5 169.7 237.0C170.0 239.4 169.2 240.5 167.6 240.4C164.1 240.2 160.1 239.0 158.0 237.4C157.2 236.8 157.0 236.0 157.0 235.0Z"/></g><circle cx="155.8" cy="231.2" r="6.3" fill="#1f487d"/><g stroke="#ffffff" stroke-width="1.5" stroke-linecap="round"><line x1="155.80" y1="231.20" x2="160.00" y2="232.94"/><line x1="155.80" y1="231.20" x2="157.54" y2="235.40"/><line x1="155.80" y1="231.20" x2="154.06" y2="235.40"/><line x1="155.80" y1="231.20" x2="151.60" y2="232.94"/><line x1="155.80" y1="231.20" x2="151.60" y2="229.46"/><line x1="155.80" y1="231.20" x2="154.06" y2="227.00"/><line x1="155.80" y1="231.20" x2="157.54" y2="227.00"/><line x1="155.80" y1="231.20" x2="160.00" y2="229.46"/></g><circle cx="155.8" cy="231.2" r="3.3" fill="#ffffff"/><circle cx="155.8" cy="231.0" r="1.0" fill="#e7a6b4"/><g fill="none" stroke="#ffffff" stroke-width="1.25"><circle cx="267" cy="230.2" r="12.3"/><rect x="264.4" y="222.79999999999998" width="5.2" height="6.6" rx="2.4"/><path d="M265.7 229.39999999999998v1.6M268.3 229.39999999999998v1.6"/><path d="M260.4 237.79999999999998v-2.6c0-1.8 1.4-3.2 3.2-3.2h6.8c1.8 0 3.2 1.4 3.2 3.2v2.6z"/><path d="M264.4 225.0h5.2"/></g><circle cx="275.2" cy="221.6" r="3.9" fill="#1f487d" stroke="#ffffff" stroke-width="1.1"/><path d="M273.2 221.6h4" stroke="#ffffff" stroke-width="1.2"/><path transform="translate(81.2,310.700) rotate(36)" fill="#ffffff" d="M0 -13.6C1.500 -13.600 2.300 -11.200 2.300 -9L2.300 -3.400L12.500 3L12.500 5.800L2.300 2.800L2.100 9.300L5.600 12L5.600 14.200L0 12.600L-5.600 14.200L-5.600 12L-2.100 9.300L-2.300 2.800L-12.500 5.800L-12.500 3L-2.300 -3.400L-2.300 -9C-2.300 -11.200 -1.500 -13.600 0 -13.600Z"/><g fill="#ffffff"><path d="M179.600 319.300L182.300 312.200L183.600 311.500L186 312.900L188 311.200L191 312.100L194 310.900L197 311.400L199 311.900L203.700 317.400L204.400 319.300Z"/><path d="M181.700 301.600L183.500 298.500L185 299.400L187.600 301.400L189 303.300L193 304.900L196.900 307.300L199.200 311.900L197.700 312.200L196.700 309.900L196.500 312.800L194.600 312.800L194.300 309.600L190 308.300L187.600 307.700L185.200 309.800L182.900 308.400L183.700 307L185.600 306.800L185.200 304.700L184 302.900L182.500 303.200Z"/><circle cx="189.900" cy="294.500" r="1.350"/><path d="M188.500 296.300L191.200 296.100L193.500 294.400L194.400 295.300L192.100 298.200L192.100 303.400L193.100 306.500L191.400 307L189.600 304.100L188.300 303.400Z"/></g><polygon transform="translate(288.7,304.4) scale(0.1015) translate(-421,-217.500)" fill="#ffffff" points="421.1,269.5 424.2,275.6 434.4,283.3 441.6,285.9 447.7,292.1 455.8,305.2 454.4,312.4 451.8,319.6 453.4,325.3 459.0,327.8 467.2,329.4 477.0,329.9 481.5,331.4 487.7,336.0 494.9,339.1 500.1,342.7 511.3,362.2 527.2,362.7 538.0,363.7 543.4,364.7 549.5,363.7 555.7,364.7 566.9,366.8 570.1,369.9 577.2,371.4 589.5,376.0 593.6,376.0 600.8,378.1 617.2,370.4 625.4,367.8 633.1,365.8 641.1,366.8 646.2,365.8 652.4,363.7 664.7,355.5 669.8,351.4 673.4,347.3 670.8,343.2 668.8,338.1 670.8,331.9 673.4,326.1 675.9,327.8 681.1,329.9 686.2,330.9 691.3,332.9 696.5,329.9 700.6,325.8 705.7,323.7 711.8,322.7 717.0,319.6 719.0,314.5 722.2,309.4 728.3,308.3 738.5,304.2 750.8,304.7 755.9,303.2 757.0,299.1 754.9,298.2 751.8,294.1 741.6,284.4 736.5,283.8 734.4,286.9 730.3,288.9 725.2,285.9 713.9,286.3 712.9,281.7 723.1,254.1 719.0,252.1 713.9,253.1 708.9,252.6 703.6,249.0 697.5,247.9 692.4,250.5 687.2,254.1 683.1,258.2 676.5,260.8 670.8,261.8 663.6,264.4 657.5,265.4 644.2,262.8 638.0,263.3 638.3,264.3 637.9,264.6 633.6,259.2 630.6,254.1 625.4,252.1 620.3,248.5 614.2,246.4 607.0,244.9 600.8,245.4 595.7,247.9 590.6,249.0 585.5,249.5 575.3,245.4 573.1,241.8 572.6,235.6 570.0,229.5 556.7,225.4 549.5,223.8 543.4,221.3 537.7,217.7 532.9,221.3 528.3,227.4 526.7,234.6 530.8,246.0 529.3,251.0 523.6,254.1 519.0,255.1 512.4,253.1 505.2,252.6 501.1,255.0 498.0,252.1 491.3,247.9 488.8,242.8 481.6,242.3 475.5,240.8 473.6,238.4 471.0,239.2 469.3,237.6 467.5,239.4 463.1,240.3 451.8,246.9 445.7,251.5 442.6,253.1 439.9,256.2 434.4,259.2 428.3,261.3 423.6,264.4 421.1,269.5"/><g fill="none" stroke="#ffffff" stroke-width="1"><path d="M64.600 472.300H94.600"/><rect x="72.600" y="446.700" width="14.500" height="25.600"/><path d="M72.600 453.500H65.500V472.300M87.100 453.500H94V472.300"/><path d="M78.600 449v3.200M81.200 449v3.200M78.600 450.600h2.600" stroke-width=".9"/><rect x="67.6" y="455.8" width="2.800" height="2.800"/><rect x="67.6" y="461.7" width="2.800" height="2.800"/><rect x="67.6" y="467.5" width="2.800" height="2.800"/><rect x="89" y="455.8" width="2.800" height="2.800"/><rect x="89" y="461.7" width="2.800" height="2.800"/><rect x="89" y="467.5" width="2.800" height="2.800"/><rect x="75" y="455.2" width="3" height="3"/><rect x="75" y="461" width="3" height="3"/><rect x="81.7" y="455.2" width="3" height="3"/><rect x="81.7" y="461" width="3" height="3"/><path d="M77.800 472.300v-5.800h4.100v5.800M79.850 466.500v5.800"/></g><g fill="none" stroke="#ffffff" stroke-width="1.150" stroke-linecap="round"><circle cx="193.8" cy="462.5" r="11.200"/><path d="M182.70000000000002 460.7c-2.200-.3-3.300 1.200-3.300 2.600s1.400 2.800 3.500 2.400M204.9 460.7c2.200-.3 3.300 1.200 3.300 2.600s-1.400 2.800-3.500 2.400"/><path d="M192.3 451.4c-.6-3 .6-5.600 2.800-5.600c1.700 0 2.700 1.300 2.500 2.600c-.2 1.200-1.200 1.900-2.200 1.700c-.9-.2-1.200-1-1-1.600"/><path d="M190.5 467.1c1.800 1.700 4.800 1.700 6.600 0"/></g><circle cx="190.5" cy="463.3" r="1" fill="#ffffff"/><circle cx="197.0" cy="463.3" r="1" fill="#ffffff"/><g fill="#ffffff"><circle cx="304.800" cy="447.800" r="3.900"/><circle cx="309.300" cy="444.300" r="1.600"/><path d="M303.400 452.500C299.600 455.300 298.300 458.800 297.900 461.300C295.200 462.700 294.500 466.200 295.300 469C296 471.400 297.500 473 299.500 473L309.100 473L309.100 456.200C309.100 454 307.600 452.500 305.800 452.500Z"/></g><path d="M306.300 456.300C306.700 460.600 304.800 463.700 299 465.100" fill="none" stroke="#1f487d" stroke-width="1.200" stroke-linecap="round"/><g fill="#ffffff"><rect x="137.100" y="523.600" width="3.800" height="8"/><path d="M130.100 521.100L144.700 534.500L143.200 536.300L141.200 534.600V545.600a1.400 1.400 0 0 1 -1.400 1.400H120.400a1.400 1.400 0 0 1 -1.400 -1.400V534.600L117 536.300L115.400 534.500Z" stroke="#fff" stroke-width=".6" stroke-linejoin="round"/></g><circle cx="130.100" cy="533.400" r="2.900" fill="#1f487d"/><path d="M123.600 544.300c0-3.200 2.600-5.200 6.500-5.200s6.500 2 6.500 5.200z" fill="#1f487d"/><g fill="none" stroke="#ffffff" stroke-width="1.25"><circle cx="281.4" cy="536.6" r="12.3"/><rect x="278.79999999999995" y="529.2" width="5.2" height="6.6" rx="2.4"/><path d="M280.09999999999997 535.8000000000001v1.6M282.7 535.8000000000001v1.6"/><path d="M274.79999999999995 544.2v-2.6c0-1.8 1.4-3.2 3.2-3.2h6.8c1.8 0 3.2 1.4 3.2 3.2v2.6z"/><path d="M278.79999999999995 531.4h5.2"/></g><circle cx="289.59999999999997" cy="528.0" r="3.9" fill="#1f487d" stroke="#ffffff" stroke-width="1.1"/><path d="M287.59999999999997 528.0h4" stroke="#ffffff" stroke-width="1.2"/><g fill="none" stroke="#e6edf8" stroke-width="1.400" stroke-linejoin="round" stroke-linecap="round"><circle cx="142.8" cy="683.8" r="15.600"/><path d="M142.800 672.900C138.800 672.900 137.200 676 137 679.500C136.800 683.500 135.500 687 133.200 689.300C135.200 690.600 138 690.700 140.300 690L140.300 691.600C137 692.900 133.800 693.700 131.700 695.300M145.300 690C147.600 690.700 150.400 690.600 152.400 689.300C150.100 687 148.800 683.500 148.600 679.500C148.400 676 146.800 672.900 142.800 672.900M145.300 690L145.300 691.600C148.600 692.900 151.800 693.700 153.900 695.300"/></g><g fill="none" stroke="#e6edf8" stroke-width="1.400" stroke-linejoin="round" stroke-linecap="round"><circle cx="280.9" cy="683.8" r="15.600"/><path d="M280.900 672.300C277.300 672.300 275.700 674.700 275.700 677.900C275.700 680.900 276.700 683.600 278.400 685.100L278.400 688C275.600 689.600 272.400 690.400 270.500 694.600M283.400 685.100C285.100 683.600 286.100 680.900 286.100 677.900C286.100 674.700 284.500 672.300 280.900 672.300M283.400 685.100L283.400 688C286.200 689.600 289.400 690.400 291.300 694.600"/></g><path fill="#ffffff" d="M147.200 805.200C140 799.200 132.700 793.700 132.700 786.600C132.700 782.100 136 778.800 140.100 778.800C143.100 778.800 145.800 780.500 147.200 783C148.600 780.500 151.300 778.800 154.300 778.800C158.400 778.800 161.700 782.100 161.700 786.600C161.700 793.700 154.400 799.200 147.200 805.200Z"/><polyline fill="none" stroke="#1f487d" stroke-width="1.700" stroke-linejoin="round" points="135.200,791.800 141.400,791.800 143.700,787 147,797.800 151.100,786 154.200,791.800 159.400,791.800"/><g stroke="#ffffff" stroke-width="4.3" stroke-linecap="round"><line x1="283.60" y1="791.70" x2="296.05" y2="791.70"/><line x1="283.60" y1="791.70" x2="292.40" y2="800.50"/><line x1="283.60" y1="791.70" x2="283.60" y2="804.15"/><line x1="283.60" y1="791.70" x2="274.80" y2="800.50"/><line x1="283.60" y1="791.70" x2="271.15" y2="791.70"/><line x1="283.60" y1="791.70" x2="274.80" y2="782.90"/><line x1="283.60" y1="791.70" x2="283.60" y2="779.25"/><line x1="283.60" y1="791.70" x2="292.40" y2="782.90"/></g><circle cx="283.6" cy="791.7" r="9.4" fill="#ffffff"/><circle cx="281.400" cy="790" r="1.900" fill="#1f487d"/><circle cx="286.600" cy="794.300" r="1" fill="#c98ea0"/><g transform="translate(918.500,530.900) rotate(-44.600)" fill="#ffffff"><rect x="-1.200" y="-10.600" width="2.400" height="21.200" rx=".6"/><rect x="0.500" y="-4.600" width="10" height="9.200"/><rect x="9.300" y="-11.600" width="3.200" height="23.200" rx="1.500"/><rect x="11.500" y="-6.100" width="65.500" height="12.200" rx="1.600"/><rect x="76" y="-3.300" width="10.300" height="6.600" rx="2.200"/><rect x="86" y="-.55" width="31.600" height="1.100" fill="#a9c3ec"/></g><path fill="#ffffff" d="M1003.500 453.600C1004.700 455.800 1006.500 458.400 1006.500 460.700A3 3 0 0 1 1000.500 460.700C1000.500 458.400 1002.300 455.800 1003.500 453.600Z"/><g fill="#ffc20e"><path d="M589.300 665.800c-2.300 1.200-3.700 3.600-3.500 6.600c.3 4.400 3.700 8.300 7.800 9c3.500-.6 6.200-3.900 6.500-8.300c.2-3.400-1-6-3-7.300c-2.500-1-5.500-1-7.800 0z"/><path d="M588.400 666.500l.6-4.800l1.600 0l.5 3.800zM592 665.200l.3-3.700l1.700 0l.4 3.700zM595.600 665.700l.7-4l1.500 .2l0 4.600z"/></g><path d="M591.600 670.200l3 3.600l-.4 3.400M594.600 673.800l2.400-1" fill="none" stroke="#1f487d" stroke-width=".9"/><path d="M588.500 690.200c-1.400.4-1.700 2.200-.7 3.800l10.900 11.800M588.500 690.200c1.800-.7 3.900-.4 5.700.7l9.700 8.400" fill="none" stroke="#b4ae86" stroke-width=".8" stroke-linecap="round"/><circle cx="590.700" cy="693.400" r=".6" fill="#b4ae86"/><g fill="#ffc20e"><ellipse cx="592.400" cy="715.500" rx="2.700" ry="4.600"/><ellipse cx="602.700" cy="715.500" rx="2.700" ry="4.600"/></g><path d="M594.600 716.200l3.100 4.600l3.100-4.600M597.700 720.800v7M596 724.800h3.400" fill="none" stroke="#ffc20e" stroke-width="1.200" stroke-linecap="round"/><ellipse cx="592.600" cy="715.500" rx=".8" ry="2.600" fill="#e9b64a" opacity=".6"/><ellipse cx="602.500" cy="715.500" rx=".8" ry="2.600" fill="#e9b64a" opacity=".6"/><path fill="#ffc20e" d="M589 743.200C588.400 738.700 591.900 735.900 596 735.800L603.600 736.200C606.700 736.400 610 738.300 610 740.400C610 742.200 607.600 743.300 603.600 743.600C599.900 744.100 596.600 747.600 592.600 750.900C590.500 750.600 589.300 747.200 589 743.200Z"/><g fill="none" stroke="#c9b04a" stroke-width=".9" stroke-linecap="round" stroke-linejoin="round"><path d="M597 759.400c-2.600-.6-5.200.2-6.400 2c-2.200.4-3.600 2.200-3.300 4.200c-.6 2 .4 4 2.400 4.700c.8 1.800 2.700 2.800 4.700 2.400c1.600 1.400 4 1.600 5.600.4c2.600.8 5.400-.4 6.600-2.800c1.600-1.600 2-4 1.200-6c-.2-2.200-1.800-4-4-4.400c-1.800-1.400-4.600-1.600-6.800-.5z"/><path d="M593.400 763c1.400-.8 2.800-.4 3.400.8M591 766.400c1.200-.6 2.600-.4 3.400.6c.6 1 .2 2.200-.8 2.800M598.600 762.200c-.8 1.400-.4 3 .8 3.800c1.400.6 2.800 0 3.400-1.200M597.600 768.400c1-.8 2.600-.8 3.600.2M603.400 767c1.200.4 1.800 1.600 1.400 2.800"/></g><path d="M598.200 773.200l3.200 4.800c.6.900 1.800 1.200 2.600.6c.8-.6.900-1.700.3-2.500l-3.500-4.300" fill="#ffc20e" stroke="#c9b04a" stroke-width=".6"/><g stroke="#ffc20e" stroke-width="1" fill="#ffc20e"><line x1="598.3" y1="791" x2="597.7" y2="784.1"/><line x1="598.3" y1="791" x2="592.2" y2="795.7"/><line x1="598.3" y1="791" x2="605.5" y2="795.3"/><line x1="598.3" y1="791" x2="598.8" y2="796.5"/><line x1="598.3" y1="791" x2="602.3" y2="788.1"/><line x1="598.3" y1="791" x2="594.2" y2="789.3"/><circle cx="598.3" cy="791" r="2.200" stroke="none"/><circle cx="597.7" cy="784.1" r="2.1" stroke="none"/><circle cx="592.2" cy="795.7" r="2.4" stroke="none"/><circle cx="605.5" cy="795.3" r="2.4" stroke="none"/><circle cx="598.8" cy="796.5" r="1.6" stroke="none"/><circle cx="602.3" cy="788.1" r="1.3" stroke="none"/><circle cx="594.2" cy="789.3" r="1.1" stroke="none"/></g><g fill="none" stroke="#c9b04a" stroke-width=".9" stroke-linejoin="round" stroke-linecap="round"><circle cx="597.700" cy="806.300" r="1.900"/><path d="M595.600 809.300c-2.600.6-4 3-4.400 6.300c-.3 2 .2 3.200 1 3.200c.7 0 1-.9 1.200-2.300c-.2 3 .4 5.600 1.200 8.200l.3 2.900h2l.8-5.400l.8 5.400h2l.3-2.900c.8-2.600 1.400-5.200 1.200-8.200c.2 1.400.5 2.300 1.200 2.300c.8 0 1.300-1.200 1-3.200c-.4-3.300-1.800-5.700-4.400-6.300z"/></g></svg>
</div>
</body>
</html>
